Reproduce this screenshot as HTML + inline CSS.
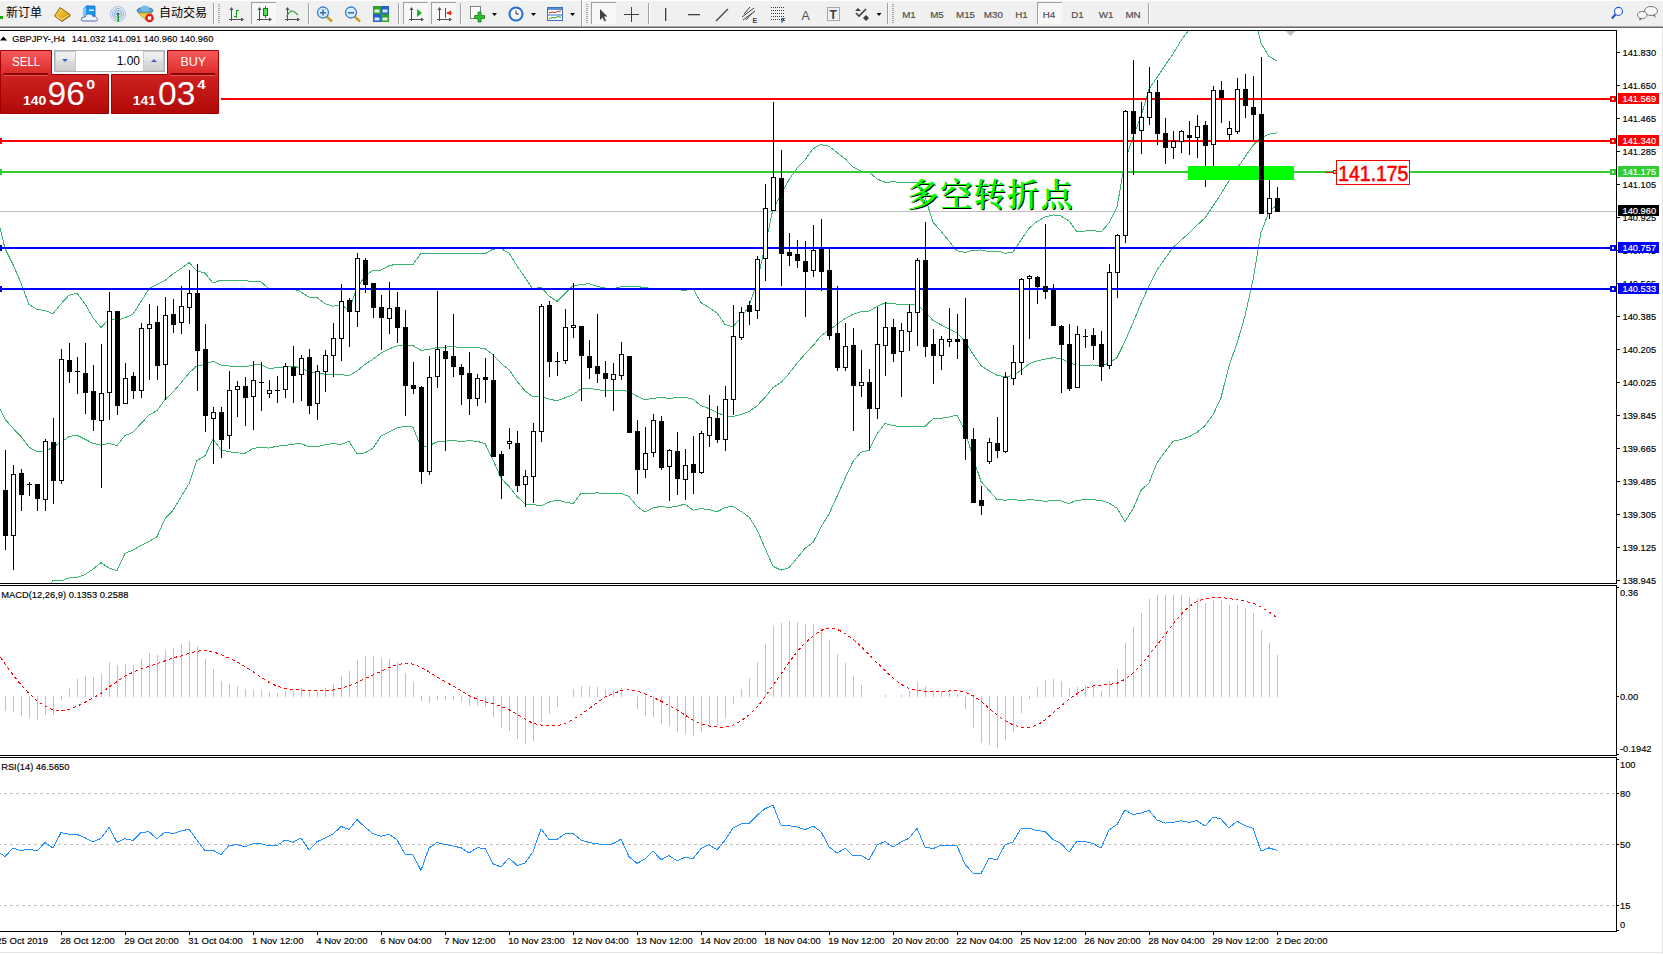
<!DOCTYPE html><html><head><meta charset="utf-8"><title>GBPJPY H4</title><style>
html,body{margin:0;padding:0;background:#fff;width:1663px;height:954px;overflow:hidden}
svg{display:block}
</style></head><body>
<svg width="1663" height="954" viewBox="0 0 1663 954">
<rect x="0" y="0" width="1663" height="954" fill="#fff"/>
<rect x="0" y="0" width="1663" height="26" fill="#f0f0f0"/><rect x="0" y="0" width="1663" height="1" fill="#fff"/>
<rect x="0" y="26" width="1663" height="1" fill="#a8a8a8"/><rect x="0" y="27" width="1663" height="1" fill="#696969"/>
<rect x="0" y="28" width="1663" height="2" fill="#fff"/>
<rect x="1662" y="28" width="1" height="926" fill="#e3e3e3"/>
<rect x="0" y="952" width="1663" height="1" fill="#e3e3e3"/>
<rect x="0" y="16" width="3" height="3" fill="#10b010"/>
<text x="6" y="17" font-size="12" fill="#000" style="font-family:'Liberation Sans', 'Noto Sans CJK SC', 'WenQuanYi Zen Hei', sans-serif">新订单</text>
<defs><linearGradient id="gbook" x1="0" y1="0" x2="1" y2="1"><stop offset="0" stop-color="#f6dc6a"/><stop offset="0.6" stop-color="#e0b020"/><stop offset="1" stop-color="#b07810"/></linearGradient></defs>
<polygon points="54.5,16 60,7.5 70,14.5 70,16 62,21.5" fill="url(#gbook)" stroke="#9a6010" stroke-width="1"/>
<polyline points="56.5,16.5 62,19.5 68.5,15" fill="none" stroke="#fff2c0" stroke-width="0.8"/>
<polygon points="84,8 86,6 95,6 95,16 84,16" fill="#1e96f0" stroke="#0a68c0" stroke-width="0.8"/>
<polygon points="84,8 86,6 86,16 84,16" fill="#7cc8ff"/>
<rect x="89" y="9.5" width="5" height="1.5" fill="#e8f4ff"/>
<path d="M83,21 C80,21 81,16.5 85,17 C86,13 92,13 93,16.5 C97,15.5 99,21 96,21 Z" fill="#eef2fa" stroke="#5070b0" stroke-width="1"/>
<circle cx="118" cy="14" r="7.5" fill="none" stroke="#a8c0e8" stroke-width="1"/>
<circle cx="118" cy="14" r="5.5" fill="none" stroke="#8fb0e0" stroke-width="1"/>
<circle cx="118" cy="14" r="3.5" fill="none" stroke="#7098d8" stroke-width="1"/>
<circle cx="118" cy="14" r="1.6" fill="#2050c0"/><rect x="117.5" y="14" width="1.5" height="8" fill="#20a020"/>
<ellipse cx="145" cy="10.5" rx="8" ry="3" fill="#5aa8d8" stroke="#2a78b0" stroke-width="1"/>
<ellipse cx="145" cy="8.5" rx="4" ry="3" fill="#78c0e8"/>
<polygon points="138,13 152,13 147,21" fill="#f0d040" stroke="#c09020" stroke-width="0.8"/>
<circle cx="149.5" cy="18" r="4.3" fill="#d82020"/><rect x="147.8" y="16.3" width="3.4" height="3.4" fill="#fff"/>
<text x="159" y="17" font-size="12" fill="#000" style="font-family:'Liberation Sans', 'Noto Sans CJK SC', 'WenQuanYi Zen Hei', sans-serif">自动交易</text>
<rect x="213" y="3" width="1" height="21" fill="#a0a0a0"/><rect x="214" y="3" width="1" height="21" fill="#fff"/>
<rect x="218" y="4" width="2" height="1" fill="#a8a8a8"/>
<rect x="218" y="6" width="2" height="1" fill="#a8a8a8"/>
<rect x="218" y="8" width="2" height="1" fill="#a8a8a8"/>
<rect x="218" y="10" width="2" height="1" fill="#a8a8a8"/>
<rect x="218" y="12" width="2" height="1" fill="#a8a8a8"/>
<rect x="218" y="14" width="2" height="1" fill="#a8a8a8"/>
<rect x="218" y="16" width="2" height="1" fill="#a8a8a8"/>
<rect x="218" y="18" width="2" height="1" fill="#a8a8a8"/>
<rect x="218" y="20" width="2" height="1" fill="#a8a8a8"/>
<rect x="218" y="22" width="2" height="1" fill="#a8a8a8"/>
<g fill="#505050"><rect x="231" y="8" width="1" height="13"/><rect x="229" y="19" width="14" height="1"/><polygon points="231.5,7 229.5,10 233.5,10"/><polygon points="244,19.5 241,17.5 241,21.5"/></g>
<g fill="#10a010"><rect x="236" y="10" width="1" height="8"/><rect x="237" y="10" width="2" height="1"/><rect x="234" y="16" width="2" height="1"/></g>
<rect x="251" y="2" width="25" height="22" fill="#f7f7f7"/>
<rect x="251" y="2" width="25" height="1" fill="#a0a0a0"/><rect x="251" y="2" width="1" height="22" fill="#a0a0a0"/>
<g fill="#505050"><rect x="259" y="8" width="1" height="13"/><rect x="257" y="19" width="14" height="1"/><polygon points="259.5,7 257.5,10 261.5,10"/><polygon points="272,19.5 269,17.5 269,21.5"/></g>
<rect x="265" y="6" width="1" height="12" fill="#108010"/><rect x="263.5" y="8.5" width="4" height="7" fill="#50e050" stroke="#108010" stroke-width="1"/>
<g fill="#505050"><rect x="287" y="8" width="1" height="13"/><rect x="285" y="19" width="14" height="1"/><polygon points="287.5,7 285.5,10 289.5,10"/><polygon points="300,19.5 297,17.5 297,21.5"/></g>
<path d="M286.5,16.5 Q290.5,10 292.5,11 Q294.5,11.5 298,15" fill="none" stroke="#30a030" stroke-width="1.1"/>
<rect x="308" y="3" width="1" height="21" fill="#a0a0a0"/><rect x="309" y="3" width="1" height="21" fill="#fff"/>
<line x1="326.5" y1="16.5" x2="332" y2="21.5" stroke="#c8a020" stroke-width="2.6"/>
<circle cx="323" cy="12.5" r="5.5" fill="#d8ecfa" stroke="#3a80d0" stroke-width="1.3"/>
<rect x="320" y="12" width="6" height="1.6" fill="#3a70b0"/>
<rect x="322.2" y="9.5" width="1.6" height="6" fill="#3a70b0"/>
<line x1="354.5" y1="16.5" x2="360" y2="21.5" stroke="#c8a020" stroke-width="2.6"/>
<circle cx="351" cy="12.5" r="5.5" fill="#d8ecfa" stroke="#3a80d0" stroke-width="1.3"/>
<rect x="348" y="12" width="6" height="1.6" fill="#3a70b0"/>
<rect x="373" y="6" width="8" height="8" fill="#30a030"/><rect x="374.5" y="9.5" width="5" height="3" fill="#fff" opacity="0.85"/>
<rect x="381" y="6" width="8" height="8" fill="#2060d0"/><rect x="382.5" y="9.5" width="5" height="3" fill="#fff" opacity="0.85"/>
<rect x="373" y="14" width="8" height="8" fill="#2060d0"/><rect x="374.5" y="17.5" width="5" height="3" fill="#fff" opacity="0.85"/>
<rect x="381" y="14" width="8" height="8" fill="#30a030"/><rect x="382.5" y="17.5" width="5" height="3" fill="#fff" opacity="0.85"/>
<rect x="398" y="3" width="1" height="21" fill="#a0a0a0"/><rect x="399" y="3" width="1" height="21" fill="#fff"/>
<rect x="403" y="2" width="25" height="22" fill="#f7f7f7"/>
<rect x="403" y="2" width="25" height="1" fill="#a0a0a0"/><rect x="403" y="2" width="1" height="22" fill="#a0a0a0"/>
<g fill="#505050"><rect x="411" y="8" width="1" height="13"/><rect x="409" y="19" width="14" height="1"/><polygon points="411.5,7 409.5,10 413.5,10"/><polygon points="424,19.5 421,17.5 421,21.5"/></g>
<polygon points="417,9 417,17 422,13" fill="#20b020"/>
<rect x="431" y="2" width="25" height="22" fill="#f7f7f7"/>
<rect x="431" y="2" width="25" height="1" fill="#a0a0a0"/><rect x="431" y="2" width="1" height="22" fill="#a0a0a0"/>
<g fill="#505050"><rect x="439" y="8" width="1" height="13"/><rect x="437" y="19" width="14" height="1"/><polygon points="439.5,7 437.5,10 441.5,10"/><polygon points="452,19.5 449,17.5 449,21.5"/></g>
<rect x="445" y="8" width="1" height="10" fill="#2060a0"/><polygon points="446,13 451,10.5 451,15.5" fill="#e03010"/><rect x="447" y="12.5" width="5" height="1.2" fill="#e03010"/>
<rect x="460" y="3" width="1" height="21" fill="#a0a0a0"/><rect x="461" y="3" width="1" height="21" fill="#fff"/>
<rect x="470.5" y="6.5" width="10" height="12" fill="#fff" stroke="#808080" stroke-width="1"/>
<path d="M478,12 h3 v3.5 h3.5 v3 h-3.5 v3.5 h-3 v-3.5 h-3.5 v-3 h3.5 z" fill="#30c030" stroke="#108010" stroke-width="0.8"/>
<polygon points="492.0,13 497.0,13 494.5,16" fill="#000"/>
<circle cx="516" cy="14" r="7.5" fill="#2070d0"/><circle cx="516" cy="14" r="5.5" fill="#f8f8f8"/><path d="M516,10.5 V14 H519" fill="none" stroke="#303030" stroke-width="1"/>
<polygon points="531.0,13 536.0,13 533.5,16" fill="#000"/>
<rect x="547.5" y="7.5" width="15" height="13" fill="#fff" stroke="#3a70c0" stroke-width="1"/><rect x="548" y="8" width="14" height="2" fill="#5a90d8"/>
<polyline points="549,13 552,12 555,12.5 558,11.5 561,11" fill="none" stroke="#c03020" stroke-width="1"/><rect x="548" y="14.5" width="14" height="1" fill="#3a70c0"/>
<polyline points="549,19 552,17.5 555,18 558,16.5 561,17.5" fill="none" stroke="#20a020" stroke-width="1"/>
<polygon points="570.0,13 575.0,13 572.5,16" fill="#000"/>
<rect x="581" y="0" width="1" height="26" fill="#a0a0a0"/><rect x="582" y="0" width="1" height="26" fill="#fff"/>
<rect x="586" y="4" width="2" height="1" fill="#a8a8a8"/>
<rect x="586" y="6" width="2" height="1" fill="#a8a8a8"/>
<rect x="586" y="8" width="2" height="1" fill="#a8a8a8"/>
<rect x="586" y="10" width="2" height="1" fill="#a8a8a8"/>
<rect x="586" y="12" width="2" height="1" fill="#a8a8a8"/>
<rect x="586" y="14" width="2" height="1" fill="#a8a8a8"/>
<rect x="586" y="16" width="2" height="1" fill="#a8a8a8"/>
<rect x="586" y="18" width="2" height="1" fill="#a8a8a8"/>
<rect x="586" y="20" width="2" height="1" fill="#a8a8a8"/>
<rect x="586" y="22" width="2" height="1" fill="#a8a8a8"/>
<rect x="591" y="2" width="25" height="22" fill="#f7f7f7"/>
<rect x="591" y="2" width="25" height="1" fill="#a0a0a0"/><rect x="591" y="2" width="1" height="22" fill="#a0a0a0"/>
<polygon points="600,9 600,20 602.5,17.5 604.5,21.5 606,20.5 604,16.5 607.5,16.5" fill="#404040"/>
<rect x="624" y="14" width="15" height="1" fill="#404040"/><rect x="631" y="7" width="1" height="15" fill="#404040"/>
<rect x="648" y="3" width="1" height="21" fill="#a0a0a0"/><rect x="649" y="3" width="1" height="21" fill="#fff"/>
<rect x="665" y="8" width="1.3" height="13" fill="#404040"/>
<rect x="688" y="14" width="12" height="1.3" fill="#404040"/>
<line x1="716" y1="21" x2="728" y2="9" stroke="#404040" stroke-width="1.2"/>
<g stroke="#404040" stroke-width="1" fill="none"><line x1="742" y1="17" x2="754" y2="8"/><line x1="743" y1="20" x2="755" y2="11"/><line x1="744" y1="14" x2="750" y2="7"/><line x1="746" y1="20" x2="752" y2="13"/></g>
<text transform="translate(752.5,23)" font-size="7" fill="#404040" text-anchor="start" font-weight="bold" style="font-family:'Liberation Sans', 'Noto Sans CJK SC', sans-serif" >E</text>
<g fill="#404040"><rect x="771" y="7" width="1" height="1"/><rect x="773" y="7" width="1" height="1"/><rect x="775" y="7" width="1" height="1"/><rect x="777" y="7" width="1" height="1"/><rect x="779" y="7" width="1" height="1"/><rect x="781" y="7" width="1" height="1"/><rect x="783" y="7" width="1" height="1"/><rect x="771" y="10" width="1" height="1"/><rect x="773" y="10" width="1" height="1"/><rect x="775" y="10" width="1" height="1"/><rect x="777" y="10" width="1" height="1"/><rect x="779" y="10" width="1" height="1"/><rect x="781" y="10" width="1" height="1"/><rect x="783" y="10" width="1" height="1"/><rect x="771" y="13" width="1" height="1"/><rect x="773" y="13" width="1" height="1"/><rect x="775" y="13" width="1" height="1"/><rect x="777" y="13" width="1" height="1"/><rect x="779" y="13" width="1" height="1"/><rect x="781" y="13" width="1" height="1"/><rect x="783" y="13" width="1" height="1"/><rect x="771" y="16" width="1" height="1"/><rect x="773" y="16" width="1" height="1"/><rect x="775" y="16" width="1" height="1"/><rect x="777" y="16" width="1" height="1"/><rect x="779" y="16" width="1" height="1"/><rect x="781" y="16" width="1" height="1"/><rect x="783" y="16" width="1" height="1"/><rect x="771" y="19" width="1" height="1"/><rect x="773" y="19" width="1" height="1"/><rect x="775" y="19" width="1" height="1"/><rect x="777" y="19" width="1" height="1"/><rect x="779" y="19" width="1" height="1"/><rect x="781" y="19" width="1" height="1"/><rect x="783" y="19" width="1" height="1"/></g>
<text transform="translate(781,23)" font-size="7" fill="#404040" text-anchor="start" font-weight="bold" style="font-family:'Liberation Sans', 'Noto Sans CJK SC', sans-serif" >F</text>
<text transform="translate(801.5,19.5) scale(0.95,1)" font-size="13" fill="#505050" text-anchor="start" font-weight="normal" style="font-family:'Liberation Sans', 'Noto Sans CJK SC', sans-serif" >A</text>
<rect x="827.5" y="7.5" width="12" height="13" fill="none" stroke="#606060" stroke-width="1" stroke-dasharray="1,1"/>
<text transform="translate(829.5,19)" font-size="12" fill="#404040" text-anchor="start" font-weight="bold" style="font-family:'Liberation Sans', 'Noto Sans CJK SC', sans-serif" >T</text>
<polygon points="855,11 858,8 861,11" fill="#404040"/><polyline points="856,13 859,16 866,9" fill="none" stroke="#404040" stroke-width="1.6"/><polygon points="863,18 866,21 869,18 866,15" fill="#404040"/>
<polygon points="876.5,13 881.5,13 879,16" fill="#000"/>
<rect x="887" y="3" width="1" height="21" fill="#a0a0a0"/><rect x="888" y="3" width="1" height="21" fill="#fff"/>
<rect x="892" y="4" width="2" height="1" fill="#a8a8a8"/>
<rect x="892" y="6" width="2" height="1" fill="#a8a8a8"/>
<rect x="892" y="8" width="2" height="1" fill="#a8a8a8"/>
<rect x="892" y="10" width="2" height="1" fill="#a8a8a8"/>
<rect x="892" y="12" width="2" height="1" fill="#a8a8a8"/>
<rect x="892" y="14" width="2" height="1" fill="#a8a8a8"/>
<rect x="892" y="16" width="2" height="1" fill="#a8a8a8"/>
<rect x="892" y="18" width="2" height="1" fill="#a8a8a8"/>
<rect x="892" y="20" width="2" height="1" fill="#a8a8a8"/>
<rect x="892" y="22" width="2" height="1" fill="#a8a8a8"/>
<rect x="1037" y="2" width="25" height="22" fill="#f7f7f7"/>
<rect x="1037" y="2" width="25" height="1" fill="#a0a0a0"/><rect x="1037" y="2" width="1" height="22" fill="#a0a0a0"/>
<text transform="translate(909,18)" font-size="9.8" fill="#4a4a4a" stroke="#4a4a4a" stroke-width="0.15" text-anchor="middle" font-weight="normal" style="font-family:'Liberation Sans', 'Noto Sans CJK SC', sans-serif" >M1</text>
<text transform="translate(937,18)" font-size="9.8" fill="#4a4a4a" stroke="#4a4a4a" stroke-width="0.15" text-anchor="middle" font-weight="normal" style="font-family:'Liberation Sans', 'Noto Sans CJK SC', sans-serif" >M5</text>
<text transform="translate(965.5,18)" font-size="9.8" fill="#4a4a4a" stroke="#4a4a4a" stroke-width="0.15" text-anchor="middle" font-weight="normal" style="font-family:'Liberation Sans', 'Noto Sans CJK SC', sans-serif" >M15</text>
<text transform="translate(993.4,18)" font-size="9.8" fill="#4a4a4a" stroke="#4a4a4a" stroke-width="0.15" text-anchor="middle" font-weight="normal" style="font-family:'Liberation Sans', 'Noto Sans CJK SC', sans-serif" >M30</text>
<text transform="translate(1021.5,18)" font-size="9.8" fill="#4a4a4a" stroke="#4a4a4a" stroke-width="0.15" text-anchor="middle" font-weight="normal" style="font-family:'Liberation Sans', 'Noto Sans CJK SC', sans-serif" >H1</text>
<text transform="translate(1049,18)" font-size="9.8" fill="#4a4a4a" stroke="#4a4a4a" stroke-width="0.15" text-anchor="middle" font-weight="normal" style="font-family:'Liberation Sans', 'Noto Sans CJK SC', sans-serif" >H4</text>
<text transform="translate(1077.5,18)" font-size="9.8" fill="#4a4a4a" stroke="#4a4a4a" stroke-width="0.15" text-anchor="middle" font-weight="normal" style="font-family:'Liberation Sans', 'Noto Sans CJK SC', sans-serif" >D1</text>
<text transform="translate(1106,18)" font-size="9.8" fill="#4a4a4a" stroke="#4a4a4a" stroke-width="0.15" text-anchor="middle" font-weight="normal" style="font-family:'Liberation Sans', 'Noto Sans CJK SC', sans-serif" >W1</text>
<text transform="translate(1133,18)" font-size="9.8" fill="#4a4a4a" stroke="#4a4a4a" stroke-width="0.15" text-anchor="middle" font-weight="normal" style="font-family:'Liberation Sans', 'Noto Sans CJK SC', sans-serif" >MN</text>
<rect x="1148" y="3" width="1" height="21" fill="#a0a0a0"/><rect x="1149" y="3" width="1" height="21" fill="#fff"/>
<circle cx="1618.5" cy="11.4" r="4" fill="#fafaff" stroke="#2457d0" stroke-width="1.1"/><line x1="1615.8" y1="14.3" x2="1611.8" y2="18.6" stroke="#2457d0" stroke-width="2.2"/>
<ellipse cx="1651" cy="11" rx="6.5" ry="4.5" fill="#f6f6fa" stroke="#7a7a7a" stroke-width="1"/><polygon points="1653,15 1655.5,18 1655,14.5" fill="#606060"/>
<ellipse cx="1642.3" cy="15" rx="4.8" ry="3.6" fill="#f4f4f8" stroke="#7a7a7a" stroke-width="1"/><polygon points="1639.5,18 1639.5,21 1642,18.3" fill="#606060"/>
<defs><clipPath id="cm"><rect x="0" y="31" width="1616" height="552"/></clipPath>
<clipPath id="cd"><rect x="0" y="586" width="1616" height="169"/></clipPath>
<clipPath id="cr"><rect x="0" y="758" width="1616" height="173"/></clipPath></defs>
<g clip-path="url(#cm)">
<rect x="0" y="211" width="1616" height="1" fill="#c0c0c0"/>
<polyline points="-3,216 5,248.5 13,264.6 21,283 29,304.4 37,309.4 45,310.7 53,313.6 61,303.8 69,295.2 77,293.2 85,303.8 93,317.7 101,327.8 109,318.8 117,320.5 125,317.7 133,314.2 141,301.5 149,288.8 157,284.44 165,280.58 173,273.88 181,268.56 189,262.6 197,270.93 205,273.14 213,283.12 221,280.06 229,280.34 237,280.67 245,280.6 253,281.73 261,281.78 269,288.84 277,289.2 285,288.74 293,288.6 301,291.98 309,297.19 317,297.56 325,303.77 333,306.22 341,304.94 349,309.72 357,288 365,275.89 373,270.1 381,270.22 389,265.73 397,264.07 405,264.8 413,264.44 421,253.23 429,253.49 437,253.24 445,253.09 453,253.09 461,253.25 469,253.7 477,253.65 485,253.89 493,249.1 501,248.62 509,252.99 517,265.9 525,277.5 533,289.28 541,287 549,295.96 557,301.42 565,293.58 573,285.73 581,284.54 589,283.72 597,286.22 605,288.08 613,288.8 621,286.77 629,286.89 637,286.43 645,287.75 653,288.47 661,289.14 669,288.81 677,289.53 685,290.47 693,288.52 701,302.71 709,307.5 717,313.03 725,324.35 733,326.98 741,317.28 749,306.29 757,282.13 765,246.71 773,208.87 781,194.83 789,179.57 797,168.28 805,159.8 813,148.72 821,144.64 829,146.2 837,152.53 845,158.62 853,166.98 861,171.13 869,171.98 877,179.01 885,182.19 893,181.88 901,182.28 909,182.32 917,182.45 925,196.59 933,222.2 941,231.28 949,241.02 957,250.88 965,252.48 973,250.28 981,249.97 989,251.66 997,250.98 1005,253.26 1013,252.01 1021,239.96 1029,228.37 1037,221.47 1045,217.06 1053,214.9 1061,216.01 1069,220.92 1077,231.83 1085,230.96 1093,230.24 1101,232.11 1109,222.98 1117,207.13 1125,161.13 1133,136.8 1141,116.51 1149,88.91 1157,77.44 1165,65.38 1173,53.97 1181,40.72 1189,29.61 1197,17.99 1205,10.19 1213,-2.58 1221,-10.01 1229,-4.1 1237,-6.32 1245,-1.88 1253,11.24 1261,43.13 1269,56.45 1277,60.99" fill="none" stroke="#3cb371" stroke-width="1" shape-rendering="crispEdges"/>
<polyline points="-3,403.4 5,419.3 13,428.2 21,436.6 29,447.1 37,451.6 45,451.8 53,447 61,442.4 69,436.6 77,435.2 85,439.2 93,443.4 101,445.2 109,443.4 117,445.5 125,435.6 133,432.1 141,423.5 149,415.1 157,410.6 165,399.6 173,392.1 181,382.7 189,373.15 197,365.75 205,364.45 213,361.05 221,365.05 229,366 237,366.75 245,367 253,365.05 261,364.5 269,368.45 277,367.7 285,367.1 293,366.35 301,367.85 309,371.9 317,372.2 325,374.2 333,374.9 341,374.65 349,375.55 357,370.95 365,364.4 373,359.15 381,353.05 389,348.95 397,346 405,345.4 413,345.8 421,350.25 429,349.6 437,347.55 445,347.15 453,346.7 461,347.5 469,347.15 477,347.5 485,348.7 493,354.6 501,363.3 509,369.8 517,381.15 525,390.75 533,396.95 541,396.4 549,399.05 557,400.75 565,397.85 573,394.7 581,388.9 589,388.4 597,389.6 605,390.6 613,391 621,390 629,391.7 637,396.25 645,399.95 653,398.15 661,397.75 669,398.2 677,397.85 685,397.3 693,399.35 701,405.7 709,408.5 717,412.4 725,416 733,416.55 741,414.4 749,411.6 757,405.9 765,397.4 773,387.55 781,382.5 789,373.65 797,363.2 805,354.1 813,345.6 821,335.8 829,330.05 837,324.5 845,318.55 853,314.2 861,311.65 869,311.2 877,306.45 885,302.85 893,303.7 901,304.6 909,304.65 917,304.7 925,311.6 933,320.5 941,324.8 949,329 957,333.05 965,341.4 973,354 981,365.7 989,371.05 997,375.2 1005,376.75 1013,375.6 1021,370.45 1029,363.85 1037,360.95 1045,359.15 1053,357.75 1061,358.45 1069,362.25 1077,365.95 1085,365.45 1093,364.95 1101,366.3 1109,362.95 1117,357.65 1125,341.3 1133,322.85 1141,303.45 1149,285.95 1157,270.1 1165,258.6 1173,247.55 1181,240.15 1189,233.2 1197,225.2 1205,217.9 1213,206.15 1221,193.8 1229,180.8 1237,168.55 1245,157 1253,145.45 1261,137.8 1269,134.1 1277,132.9" fill="none" stroke="#3cb371" stroke-width="1" shape-rendering="crispEdges"/>
<polyline points="-3,596.8 5,590.1 13,591.8 21,590.2 29,589.8 37,593.8 45,592.9 53,580.4 61,581 69,578 77,577.2 85,574.6 93,569.1 101,562.6 109,568 117,570.5 125,553.5 133,550 141,545.5 149,541.4 157,536.76 165,518.62 173,510.32 181,496.84 189,483.7 197,460.57 205,455.76 213,438.98 221,450.04 229,451.66 237,452.83 245,453.4 253,448.37 261,447.22 269,448.06 277,446.2 285,445.46 293,444.1 301,443.72 309,446.61 317,446.84 325,444.63 333,443.58 341,444.36 349,441.38 357,453.9 365,452.91 373,448.2 381,435.88 389,432.17 397,427.93 405,426 413,427.16 421,447.27 429,445.71 437,441.86 445,441.21 453,440.31 461,441.75 469,440.6 477,441.35 485,443.51 493,460.1 501,477.98 509,486.61 517,496.4 525,504 533,504.62 541,505.8 549,502.14 557,500.08 565,502.12 573,503.67 581,493.26 589,493.08 597,492.98 605,493.12 613,493.2 621,493.23 629,496.51 637,506.07 645,512.15 653,507.83 661,506.36 669,507.59 677,506.17 685,504.13 693,510.18 701,508.69 709,509.5 717,511.77 725,507.65 733,506.12 741,511.52 749,516.91 757,529.67 765,548.09 773,566.23 781,570.17 789,567.73 797,558.12 805,548.4 813,542.48 821,526.96 829,513.9 837,496.47 845,478.48 853,461.42 861,452.17 869,450.42 877,433.89 885,423.51 893,425.52 901,426.92 909,426.98 917,426.95 925,426.61 933,418.8 941,418.32 949,416.98 957,415.22 965,430.32 973,457.72 981,481.43 989,490.44 997,499.42 1005,500.24 1013,499.19 1021,500.94 1029,499.33 1037,500.43 1045,501.24 1053,500.6 1061,500.89 1069,503.58 1077,500.07 1085,499.94 1093,499.66 1101,500.49 1109,502.92 1117,508.17 1125,521.47 1133,508.9 1141,490.39 1149,482.99 1157,462.76 1165,451.82 1173,441.13 1181,439.58 1189,436.79 1197,432.41 1205,425.61 1213,414.88 1221,397.61 1229,365.7 1237,343.42 1245,315.88 1253,279.66 1261,232.47 1269,211.75 1277,204.81" fill="none" stroke="#3cb371" stroke-width="1" shape-rendering="crispEdges"/>
<rect x="0" y="98" width="1616" height="2" fill="#ff0000"/>
<rect x="0" y="140" width="1616" height="2" fill="#ff0000"/>
<rect x="0" y="171" width="1616" height="2" fill="#32cd32"/>
<rect x="0" y="247" width="1616" height="2" fill="#0000ff"/>
<rect x="0" y="288" width="1616" height="2" fill="#0000ff"/>
<g shape-rendering="crispEdges">
<rect x="5" y="450" width="1" height="100" fill="#000"/><rect x="3" y="490" width="5" height="46" fill="#000"/>
<rect x="13" y="465" width="1" height="105" fill="#000"/><rect x="11" y="474" width="5" height="62" fill="#000"/><rect x="12" y="475" width="3" height="60" fill="#fff"/>
<rect x="21" y="469" width="1" height="42" fill="#000"/><rect x="19" y="473" width="5" height="22" fill="#000"/>
<rect x="29" y="482" width="1" height="14" fill="#000"/><rect x="27" y="484" width="5" height="1" fill="#000"/>
<rect x="37" y="484" width="1" height="27" fill="#000"/><rect x="35" y="484" width="5" height="15" fill="#000"/>
<rect x="45" y="439" width="1" height="72" fill="#000"/><rect x="43" y="441" width="5" height="59" fill="#000"/><rect x="44" y="442" width="3" height="57" fill="#fff"/>
<rect x="53" y="418" width="1" height="86" fill="#000"/><rect x="51" y="442" width="5" height="39" fill="#000"/>
<rect x="61" y="349" width="1" height="135" fill="#000"/><rect x="59" y="359" width="5" height="122" fill="#000"/><rect x="60" y="360" width="3" height="120" fill="#fff"/>
<rect x="69" y="343" width="1" height="40" fill="#000"/><rect x="67" y="360" width="5" height="12" fill="#000"/>
<rect x="77" y="357" width="1" height="37" fill="#000"/><rect x="75" y="371" width="5" height="1" fill="#000"/>
<rect x="85" y="343" width="1" height="71" fill="#000"/><rect x="83" y="373" width="5" height="20" fill="#000"/>
<rect x="93" y="365" width="1" height="66" fill="#000"/><rect x="91" y="391" width="5" height="29" fill="#000"/>
<rect x="101" y="344" width="1" height="144" fill="#000"/><rect x="99" y="393" width="5" height="28" fill="#000"/><rect x="100" y="394" width="3" height="26" fill="#fff"/>
<rect x="109" y="292" width="1" height="128" fill="#000"/><rect x="107" y="311" width="5" height="82" fill="#000"/><rect x="108" y="312" width="3" height="80" fill="#fff"/>
<rect x="117" y="311" width="1" height="104" fill="#000"/><rect x="115" y="311" width="5" height="95" fill="#000"/>
<rect x="125" y="363" width="1" height="41" fill="#000"/><rect x="123" y="378" width="5" height="26" fill="#000"/><rect x="124" y="379" width="3" height="24" fill="#fff"/>
<rect x="133" y="372" width="1" height="27" fill="#000"/><rect x="131" y="376" width="5" height="15" fill="#000"/>
<rect x="141" y="323" width="1" height="75" fill="#000"/><rect x="139" y="328" width="5" height="63" fill="#000"/><rect x="140" y="329" width="3" height="61" fill="#fff"/>
<rect x="149" y="304" width="1" height="76" fill="#000"/><rect x="147" y="324" width="5" height="5" fill="#000"/><rect x="148" y="325" width="3" height="3" fill="#fff"/>
<rect x="157" y="306" width="1" height="74" fill="#000"/><rect x="155" y="322" width="5" height="44" fill="#000"/>
<rect x="165" y="297" width="1" height="103" fill="#000"/><rect x="163" y="315" width="5" height="50" fill="#000"/><rect x="164" y="316" width="3" height="48" fill="#fff"/>
<rect x="173" y="299" width="1" height="34" fill="#000"/><rect x="171" y="314" width="5" height="11" fill="#000"/>
<rect x="181" y="286" width="1" height="48" fill="#000"/><rect x="179" y="306" width="5" height="17" fill="#000"/><rect x="180" y="307" width="3" height="15" fill="#fff"/>
<rect x="189" y="270" width="1" height="54" fill="#000"/><rect x="187" y="293" width="5" height="15" fill="#000"/><rect x="188" y="294" width="3" height="13" fill="#fff"/>
<rect x="197" y="264" width="1" height="127" fill="#000"/><rect x="195" y="293" width="5" height="58" fill="#000"/>
<rect x="205" y="324" width="1" height="108" fill="#000"/><rect x="203" y="349" width="5" height="67" fill="#000"/>
<rect x="213" y="407" width="1" height="57" fill="#000"/><rect x="211" y="412" width="5" height="7" fill="#000"/><rect x="212" y="413" width="3" height="5" fill="#fff"/>
<rect x="221" y="407" width="1" height="51" fill="#000"/><rect x="219" y="412" width="5" height="28" fill="#000"/>
<rect x="229" y="371" width="1" height="78" fill="#000"/><rect x="227" y="390" width="5" height="46" fill="#000"/><rect x="228" y="391" width="3" height="44" fill="#fff"/>
<rect x="237" y="381" width="1" height="36" fill="#000"/><rect x="235" y="386" width="5" height="4" fill="#000"/><rect x="236" y="387" width="3" height="2" fill="#fff"/>
<rect x="245" y="377" width="1" height="49" fill="#000"/><rect x="243" y="386" width="5" height="12" fill="#000"/>
<rect x="253" y="361" width="1" height="69" fill="#000"/><rect x="251" y="380" width="5" height="17" fill="#000"/><rect x="252" y="381" width="3" height="15" fill="#fff"/>
<rect x="261" y="362" width="1" height="49" fill="#000"/><rect x="259" y="382" width="5" height="1" fill="#000"/>
<rect x="269" y="380" width="1" height="18" fill="#000"/><rect x="267" y="390" width="5" height="4" fill="#000"/><rect x="268" y="391" width="3" height="2" fill="#fff"/>
<rect x="277" y="376" width="1" height="27" fill="#000"/><rect x="275" y="390" width="5" height="1" fill="#000"/>
<rect x="285" y="363" width="1" height="35" fill="#000"/><rect x="283" y="366" width="5" height="24" fill="#000"/><rect x="284" y="367" width="3" height="22" fill="#fff"/>
<rect x="293" y="346" width="1" height="57" fill="#000"/><rect x="291" y="367" width="5" height="9" fill="#000"/>
<rect x="301" y="355" width="1" height="46" fill="#000"/><rect x="299" y="358" width="5" height="17" fill="#000"/><rect x="300" y="359" width="3" height="15" fill="#fff"/>
<rect x="309" y="349" width="1" height="65" fill="#000"/><rect x="307" y="357" width="5" height="49" fill="#000"/>
<rect x="317" y="365" width="1" height="55" fill="#000"/><rect x="315" y="371" width="5" height="33" fill="#000"/><rect x="316" y="372" width="3" height="31" fill="#fff"/>
<rect x="325" y="350" width="1" height="42" fill="#000"/><rect x="323" y="355" width="5" height="17" fill="#000"/><rect x="324" y="356" width="3" height="15" fill="#fff"/>
<rect x="333" y="323" width="1" height="54" fill="#000"/><rect x="331" y="338" width="5" height="18" fill="#000"/><rect x="332" y="339" width="3" height="16" fill="#fff"/>
<rect x="341" y="284" width="1" height="77" fill="#000"/><rect x="339" y="301" width="5" height="38" fill="#000"/><rect x="340" y="302" width="3" height="36" fill="#fff"/>
<rect x="349" y="298" width="1" height="49" fill="#000"/><rect x="347" y="300" width="5" height="12" fill="#000"/>
<rect x="357" y="253" width="1" height="74" fill="#000"/><rect x="355" y="258" width="5" height="54" fill="#000"/><rect x="356" y="259" width="3" height="52" fill="#fff"/>
<rect x="365" y="258" width="1" height="35" fill="#000"/><rect x="363" y="260" width="5" height="25" fill="#000"/>
<rect x="373" y="283" width="1" height="35" fill="#000"/><rect x="371" y="283" width="5" height="25" fill="#000"/>
<rect x="381" y="295" width="1" height="55" fill="#000"/><rect x="379" y="307" width="5" height="11" fill="#000"/>
<rect x="389" y="282" width="1" height="52" fill="#000"/><rect x="387" y="308" width="5" height="11" fill="#000"/><rect x="388" y="309" width="3" height="9" fill="#fff"/>
<rect x="397" y="292" width="1" height="51" fill="#000"/><rect x="395" y="307" width="5" height="21" fill="#000"/>
<rect x="405" y="310" width="1" height="106" fill="#000"/><rect x="403" y="327" width="5" height="59" fill="#000"/>
<rect x="413" y="362" width="1" height="32" fill="#000"/><rect x="411" y="385" width="5" height="4" fill="#000"/>
<rect x="421" y="386" width="1" height="98" fill="#000"/><rect x="419" y="387" width="5" height="85" fill="#000"/>
<rect x="429" y="356" width="1" height="119" fill="#000"/><rect x="427" y="377" width="5" height="95" fill="#000"/><rect x="428" y="378" width="3" height="93" fill="#fff"/>
<rect x="437" y="291" width="1" height="97" fill="#000"/><rect x="435" y="349" width="5" height="28" fill="#000"/><rect x="436" y="350" width="3" height="26" fill="#fff"/>
<rect x="445" y="345" width="1" height="106" fill="#000"/><rect x="443" y="351" width="5" height="8" fill="#000"/>
<rect x="453" y="314" width="1" height="63" fill="#000"/><rect x="451" y="356" width="5" height="11" fill="#000"/>
<rect x="461" y="364" width="1" height="41" fill="#000"/><rect x="459" y="367" width="5" height="8" fill="#000"/>
<rect x="469" y="352" width="1" height="63" fill="#000"/><rect x="467" y="373" width="5" height="26" fill="#000"/>
<rect x="477" y="374" width="1" height="32" fill="#000"/><rect x="475" y="378" width="5" height="21" fill="#000"/><rect x="476" y="379" width="3" height="19" fill="#fff"/>
<rect x="485" y="358" width="1" height="45" fill="#000"/><rect x="483" y="377" width="5" height="3" fill="#000"/>
<rect x="493" y="354" width="1" height="103" fill="#000"/><rect x="491" y="380" width="5" height="77" fill="#000"/>
<rect x="501" y="451" width="1" height="48" fill="#000"/><rect x="499" y="454" width="5" height="22" fill="#000"/>
<rect x="509" y="428" width="1" height="21" fill="#000"/><rect x="507" y="441" width="5" height="3" fill="#000"/><rect x="508" y="442" width="3" height="1" fill="#fff"/>
<rect x="517" y="431" width="1" height="61" fill="#000"/><rect x="515" y="443" width="5" height="43" fill="#000"/>
<rect x="525" y="470" width="1" height="37" fill="#000"/><rect x="523" y="476" width="5" height="9" fill="#000"/><rect x="524" y="477" width="3" height="7" fill="#fff"/>
<rect x="533" y="423" width="1" height="80" fill="#000"/><rect x="531" y="431" width="5" height="46" fill="#000"/><rect x="532" y="432" width="3" height="44" fill="#fff"/>
<rect x="541" y="304" width="1" height="138" fill="#000"/><rect x="539" y="306" width="5" height="126" fill="#000"/><rect x="540" y="307" width="3" height="124" fill="#fff"/>
<rect x="549" y="301" width="1" height="76" fill="#000"/><rect x="547" y="305" width="5" height="57" fill="#000"/>
<rect x="557" y="352" width="1" height="24" fill="#000"/><rect x="555" y="361" width="5" height="1" fill="#000"/>
<rect x="565" y="309" width="1" height="55" fill="#000"/><rect x="563" y="327" width="5" height="34" fill="#000"/><rect x="564" y="328" width="3" height="32" fill="#fff"/>
<rect x="573" y="283" width="1" height="55" fill="#000"/><rect x="571" y="325" width="5" height="3" fill="#000"/><rect x="572" y="326" width="3" height="1" fill="#fff"/>
<rect x="581" y="326" width="1" height="75" fill="#000"/><rect x="579" y="326" width="5" height="30" fill="#000"/>
<rect x="589" y="340" width="1" height="39" fill="#000"/><rect x="587" y="356" width="5" height="12" fill="#000"/>
<rect x="597" y="314" width="1" height="69" fill="#000"/><rect x="595" y="366" width="5" height="8" fill="#000"/>
<rect x="605" y="361" width="1" height="36" fill="#000"/><rect x="603" y="373" width="5" height="6" fill="#000"/>
<rect x="613" y="363" width="1" height="48" fill="#000"/><rect x="611" y="374" width="5" height="6" fill="#000"/><rect x="612" y="375" width="3" height="4" fill="#fff"/>
<rect x="621" y="342" width="1" height="38" fill="#000"/><rect x="619" y="354" width="5" height="22" fill="#000"/><rect x="620" y="355" width="3" height="20" fill="#fff"/>
<rect x="629" y="356" width="1" height="77" fill="#000"/><rect x="627" y="356" width="5" height="77" fill="#000"/>
<rect x="637" y="420" width="1" height="74" fill="#000"/><rect x="635" y="431" width="5" height="39" fill="#000"/>
<rect x="645" y="427" width="1" height="51" fill="#000"/><rect x="643" y="453" width="5" height="17" fill="#000"/><rect x="644" y="454" width="3" height="15" fill="#fff"/>
<rect x="653" y="414" width="1" height="43" fill="#000"/><rect x="651" y="420" width="5" height="33" fill="#000"/><rect x="652" y="421" width="3" height="31" fill="#fff"/>
<rect x="661" y="416" width="1" height="54" fill="#000"/><rect x="659" y="421" width="5" height="47" fill="#000"/>
<rect x="669" y="449" width="1" height="52" fill="#000"/><rect x="667" y="450" width="5" height="17" fill="#000"/><rect x="668" y="451" width="3" height="15" fill="#fff"/>
<rect x="677" y="432" width="1" height="63" fill="#000"/><rect x="675" y="451" width="5" height="28" fill="#000"/>
<rect x="685" y="449" width="1" height="51" fill="#000"/><rect x="683" y="465" width="5" height="15" fill="#000"/><rect x="684" y="466" width="3" height="13" fill="#fff"/>
<rect x="693" y="436" width="1" height="58" fill="#000"/><rect x="691" y="464" width="5" height="9" fill="#000"/>
<rect x="701" y="431" width="1" height="43" fill="#000"/><rect x="699" y="433" width="5" height="40" fill="#000"/><rect x="700" y="434" width="3" height="38" fill="#fff"/>
<rect x="709" y="395" width="1" height="52" fill="#000"/><rect x="707" y="417" width="5" height="19" fill="#000"/><rect x="708" y="418" width="3" height="17" fill="#fff"/>
<rect x="717" y="406" width="1" height="37" fill="#000"/><rect x="715" y="418" width="5" height="22" fill="#000"/>
<rect x="725" y="386" width="1" height="65" fill="#000"/><rect x="723" y="399" width="5" height="41" fill="#000"/><rect x="724" y="400" width="3" height="39" fill="#fff"/>
<rect x="733" y="305" width="1" height="110" fill="#000"/><rect x="731" y="336" width="5" height="64" fill="#000"/><rect x="732" y="337" width="3" height="62" fill="#fff"/>
<rect x="741" y="307" width="1" height="33" fill="#000"/><rect x="739" y="312" width="5" height="26" fill="#000"/><rect x="740" y="313" width="3" height="24" fill="#fff"/>
<rect x="749" y="301" width="1" height="24" fill="#000"/><rect x="747" y="305" width="5" height="7" fill="#000"/>
<rect x="757" y="256" width="1" height="63" fill="#000"/><rect x="755" y="259" width="5" height="52" fill="#000"/><rect x="756" y="260" width="3" height="50" fill="#fff"/>
<rect x="765" y="184" width="1" height="97" fill="#000"/><rect x="763" y="208" width="5" height="51" fill="#000"/><rect x="764" y="209" width="3" height="49" fill="#fff"/>
<rect x="773" y="102" width="1" height="109" fill="#000"/><rect x="771" y="177" width="5" height="34" fill="#000"/><rect x="772" y="178" width="3" height="32" fill="#fff"/>
<rect x="781" y="150" width="1" height="136" fill="#000"/><rect x="779" y="178" width="5" height="76" fill="#000"/>
<rect x="789" y="233" width="1" height="33" fill="#000"/><rect x="787" y="252" width="5" height="4" fill="#000"/>
<rect x="797" y="240" width="1" height="28" fill="#000"/><rect x="795" y="254" width="5" height="7" fill="#000"/>
<rect x="805" y="241" width="1" height="76" fill="#000"/><rect x="803" y="261" width="5" height="11" fill="#000"/>
<rect x="813" y="225" width="1" height="52" fill="#000"/><rect x="811" y="250" width="5" height="21" fill="#000"/><rect x="812" y="251" width="3" height="19" fill="#fff"/>
<rect x="821" y="219" width="1" height="72" fill="#000"/><rect x="819" y="249" width="5" height="23" fill="#000"/>
<rect x="829" y="249" width="1" height="91" fill="#000"/><rect x="827" y="270" width="5" height="66" fill="#000"/>
<rect x="837" y="286" width="1" height="85" fill="#000"/><rect x="835" y="333" width="5" height="35" fill="#000"/>
<rect x="845" y="323" width="1" height="48" fill="#000"/><rect x="843" y="346" width="5" height="22" fill="#000"/><rect x="844" y="347" width="3" height="20" fill="#fff"/>
<rect x="853" y="328" width="1" height="103" fill="#000"/><rect x="851" y="345" width="5" height="41" fill="#000"/>
<rect x="861" y="350" width="1" height="47" fill="#000"/><rect x="859" y="382" width="5" height="4" fill="#000"/><rect x="860" y="383" width="3" height="2" fill="#fff"/>
<rect x="869" y="369" width="1" height="81" fill="#000"/><rect x="867" y="382" width="5" height="27" fill="#000"/>
<rect x="877" y="307" width="1" height="112" fill="#000"/><rect x="875" y="344" width="5" height="65" fill="#000"/><rect x="876" y="345" width="3" height="63" fill="#fff"/>
<rect x="885" y="302" width="1" height="74" fill="#000"/><rect x="883" y="327" width="5" height="19" fill="#000"/><rect x="884" y="328" width="3" height="17" fill="#fff"/>
<rect x="893" y="319" width="1" height="43" fill="#000"/><rect x="891" y="327" width="5" height="27" fill="#000"/>
<rect x="901" y="323" width="1" height="74" fill="#000"/><rect x="899" y="330" width="5" height="22" fill="#000"/><rect x="900" y="331" width="3" height="20" fill="#fff"/>
<rect x="909" y="304" width="1" height="47" fill="#000"/><rect x="907" y="312" width="5" height="20" fill="#000"/><rect x="908" y="313" width="3" height="18" fill="#fff"/>
<rect x="917" y="258" width="1" height="88" fill="#000"/><rect x="915" y="260" width="5" height="53" fill="#000"/><rect x="916" y="261" width="3" height="51" fill="#fff"/>
<rect x="925" y="222" width="1" height="135" fill="#000"/><rect x="923" y="260" width="5" height="87" fill="#000"/>
<rect x="933" y="329" width="1" height="55" fill="#000"/><rect x="931" y="344" width="5" height="12" fill="#000"/>
<rect x="941" y="336" width="1" height="34" fill="#000"/><rect x="939" y="339" width="5" height="17" fill="#000"/><rect x="940" y="340" width="3" height="15" fill="#fff"/>
<rect x="949" y="308" width="1" height="39" fill="#000"/><rect x="947" y="339" width="5" height="3" fill="#000"/><rect x="948" y="340" width="3" height="1" fill="#fff"/>
<rect x="957" y="314" width="1" height="45" fill="#000"/><rect x="955" y="339" width="5" height="3" fill="#000"/>
<rect x="965" y="298" width="1" height="162" fill="#000"/><rect x="963" y="339" width="5" height="100" fill="#000"/>
<rect x="973" y="428" width="1" height="75" fill="#000"/><rect x="971" y="439" width="5" height="64" fill="#000"/>
<rect x="981" y="486" width="1" height="29" fill="#000"/><rect x="979" y="500" width="5" height="6" fill="#000"/>
<rect x="989" y="438" width="1" height="26" fill="#000"/><rect x="987" y="442" width="5" height="20" fill="#000"/><rect x="988" y="443" width="3" height="18" fill="#fff"/>
<rect x="997" y="417" width="1" height="41" fill="#000"/><rect x="995" y="443" width="5" height="8" fill="#000"/>
<rect x="1005" y="372" width="1" height="81" fill="#000"/><rect x="1003" y="377" width="5" height="75" fill="#000"/><rect x="1004" y="378" width="3" height="73" fill="#fff"/>
<rect x="1013" y="345" width="1" height="40" fill="#000"/><rect x="1011" y="362" width="5" height="17" fill="#000"/><rect x="1012" y="363" width="3" height="15" fill="#fff"/>
<rect x="1021" y="278" width="1" height="97" fill="#000"/><rect x="1019" y="279" width="5" height="84" fill="#000"/><rect x="1020" y="280" width="3" height="82" fill="#fff"/>
<rect x="1029" y="275" width="1" height="64" fill="#000"/><rect x="1027" y="276" width="5" height="3" fill="#000"/><rect x="1028" y="277" width="3" height="1" fill="#fff"/>
<rect x="1037" y="276" width="1" height="28" fill="#000"/><rect x="1035" y="277" width="5" height="10" fill="#000"/>
<rect x="1045" y="224" width="1" height="75" fill="#000"/><rect x="1043" y="286" width="5" height="6" fill="#000"/>
<rect x="1053" y="284" width="1" height="42" fill="#000"/><rect x="1051" y="290" width="5" height="36" fill="#000"/>
<rect x="1061" y="325" width="1" height="68" fill="#000"/><rect x="1059" y="326" width="5" height="19" fill="#000"/>
<rect x="1069" y="324" width="1" height="67" fill="#000"/><rect x="1067" y="344" width="5" height="45" fill="#000"/>
<rect x="1077" y="326" width="1" height="62" fill="#000"/><rect x="1075" y="334" width="5" height="54" fill="#000"/><rect x="1076" y="335" width="3" height="52" fill="#fff"/>
<rect x="1085" y="329" width="1" height="19" fill="#000"/><rect x="1083" y="336" width="5" height="1" fill="#000"/>
<rect x="1093" y="328" width="1" height="32" fill="#000"/><rect x="1091" y="335" width="5" height="11" fill="#000"/>
<rect x="1101" y="331" width="1" height="50" fill="#000"/><rect x="1099" y="344" width="5" height="23" fill="#000"/>
<rect x="1109" y="264" width="1" height="105" fill="#000"/><rect x="1107" y="272" width="5" height="94" fill="#000"/><rect x="1108" y="273" width="3" height="92" fill="#fff"/>
<rect x="1117" y="234" width="1" height="64" fill="#000"/><rect x="1115" y="235" width="5" height="38" fill="#000"/><rect x="1116" y="236" width="3" height="36" fill="#fff"/>
<rect x="1125" y="110" width="1" height="133" fill="#000"/><rect x="1123" y="111" width="5" height="125" fill="#000"/><rect x="1124" y="112" width="3" height="123" fill="#fff"/>
<rect x="1133" y="60" width="1" height="115" fill="#000"/><rect x="1131" y="111" width="5" height="23" fill="#000"/>
<rect x="1141" y="102" width="1" height="52" fill="#000"/><rect x="1139" y="117" width="5" height="14" fill="#000"/><rect x="1140" y="118" width="3" height="12" fill="#fff"/>
<rect x="1149" y="67" width="1" height="58" fill="#000"/><rect x="1147" y="92" width="5" height="26" fill="#000"/><rect x="1148" y="93" width="3" height="24" fill="#fff"/>
<rect x="1157" y="80" width="1" height="65" fill="#000"/><rect x="1155" y="92" width="5" height="42" fill="#000"/>
<rect x="1165" y="118" width="1" height="46" fill="#000"/><rect x="1163" y="133" width="5" height="15" fill="#000"/>
<rect x="1173" y="131" width="1" height="28" fill="#000"/><rect x="1171" y="141" width="5" height="7" fill="#000"/><rect x="1172" y="142" width="3" height="5" fill="#fff"/>
<rect x="1181" y="130" width="1" height="23" fill="#000"/><rect x="1179" y="131" width="5" height="11" fill="#000"/><rect x="1180" y="132" width="3" height="9" fill="#fff"/>
<rect x="1189" y="121" width="1" height="34" fill="#000"/><rect x="1187" y="135" width="5" height="3" fill="#000"/>
<rect x="1197" y="115" width="1" height="43" fill="#000"/><rect x="1195" y="126" width="5" height="12" fill="#000"/><rect x="1196" y="127" width="3" height="10" fill="#fff"/>
<rect x="1205" y="121" width="1" height="66" fill="#000"/><rect x="1203" y="125" width="5" height="21" fill="#000"/>
<rect x="1213" y="86" width="1" height="83" fill="#000"/><rect x="1211" y="90" width="5" height="55" fill="#000"/><rect x="1212" y="91" width="3" height="53" fill="#fff"/>
<rect x="1221" y="81" width="1" height="42" fill="#000"/><rect x="1219" y="90" width="5" height="8" fill="#000"/>
<rect x="1229" y="121" width="1" height="19" fill="#000"/><rect x="1227" y="128" width="5" height="7" fill="#000"/><rect x="1228" y="129" width="3" height="5" fill="#fff"/>
<rect x="1237" y="78" width="1" height="56" fill="#000"/><rect x="1235" y="89" width="5" height="43" fill="#000"/><rect x="1236" y="90" width="3" height="41" fill="#fff"/>
<rect x="1245" y="74" width="1" height="44" fill="#000"/><rect x="1243" y="89" width="5" height="17" fill="#000"/>
<rect x="1253" y="76" width="1" height="64" fill="#000"/><rect x="1251" y="107" width="5" height="8" fill="#000"/>
<rect x="1261" y="57" width="1" height="157" fill="#000"/><rect x="1259" y="114" width="5" height="100" fill="#000"/>
<rect x="1269" y="170" width="1" height="49" fill="#000"/><rect x="1267" y="198" width="5" height="16" fill="#000"/><rect x="1268" y="199" width="3" height="14" fill="#fff"/>
<rect x="1277" y="187" width="1" height="25" fill="#000"/><rect x="1275" y="198" width="5" height="14" fill="#000"/>
</g>
<rect x="1188" y="166" width="106" height="14" fill="#00ff00"/>
<g shape-rendering="crispEdges"><rect x="1259" y="114" width="5" height="100" fill="#000"/></g>
</g>
<g clip-path="url(#cd)" shape-rendering="crispEdges">
<rect x="5" y="696" width="1" height="15" fill="#c0c0c0"/>
<rect x="13" y="696" width="1" height="16" fill="#c0c0c0"/>
<rect x="21" y="696" width="1" height="20" fill="#c0c0c0"/>
<rect x="29" y="696" width="1" height="22" fill="#c0c0c0"/>
<rect x="37" y="696" width="1" height="24" fill="#c0c0c0"/>
<rect x="45" y="696" width="1" height="19" fill="#c0c0c0"/>
<rect x="53" y="696" width="1" height="19" fill="#c0c0c0"/>
<rect x="61" y="696" width="1" height="4" fill="#c0c0c0"/>
<rect x="69" y="688" width="1" height="9" fill="#c0c0c0"/>
<rect x="77" y="679" width="1" height="18" fill="#c0c0c0"/>
<rect x="85" y="676" width="1" height="21" fill="#c0c0c0"/>
<rect x="93" y="677" width="1" height="20" fill="#c0c0c0"/>
<rect x="101" y="674" width="1" height="23" fill="#c0c0c0"/>
<rect x="109" y="662" width="1" height="35" fill="#c0c0c0"/>
<rect x="117" y="665" width="1" height="32" fill="#c0c0c0"/>
<rect x="125" y="664" width="1" height="33" fill="#c0c0c0"/>
<rect x="133" y="665" width="1" height="32" fill="#c0c0c0"/>
<rect x="141" y="659" width="1" height="38" fill="#c0c0c0"/>
<rect x="149" y="653" width="1" height="44" fill="#c0c0c0"/>
<rect x="157" y="655" width="1" height="42" fill="#c0c0c0"/>
<rect x="165" y="650" width="1" height="47" fill="#c0c0c0"/>
<rect x="173" y="648" width="1" height="49" fill="#c0c0c0"/>
<rect x="181" y="644" width="1" height="53" fill="#c0c0c0"/>
<rect x="189" y="641" width="1" height="56" fill="#c0c0c0"/>
<rect x="197" y="646" width="1" height="51" fill="#c0c0c0"/>
<rect x="205" y="659" width="1" height="38" fill="#c0c0c0"/>
<rect x="213" y="669" width="1" height="28" fill="#c0c0c0"/>
<rect x="221" y="681" width="1" height="16" fill="#c0c0c0"/>
<rect x="229" y="684" width="1" height="13" fill="#c0c0c0"/>
<rect x="237" y="686" width="1" height="11" fill="#c0c0c0"/>
<rect x="245" y="689" width="1" height="8" fill="#c0c0c0"/>
<rect x="253" y="690" width="1" height="7" fill="#c0c0c0"/>
<rect x="261" y="690" width="1" height="7" fill="#c0c0c0"/>
<rect x="269" y="692" width="1" height="5" fill="#c0c0c0"/>
<rect x="277" y="693" width="1" height="4" fill="#c0c0c0"/>
<rect x="285" y="691" width="1" height="6" fill="#c0c0c0"/>
<rect x="293" y="691" width="1" height="6" fill="#c0c0c0"/>
<rect x="301" y="688" width="1" height="9" fill="#c0c0c0"/>
<rect x="309" y="692" width="1" height="5" fill="#c0c0c0"/>
<rect x="317" y="691" width="1" height="6" fill="#c0c0c0"/>
<rect x="325" y="688" width="1" height="9" fill="#c0c0c0"/>
<rect x="333" y="684" width="1" height="13" fill="#c0c0c0"/>
<rect x="341" y="676" width="1" height="21" fill="#c0c0c0"/>
<rect x="349" y="671" width="1" height="26" fill="#c0c0c0"/>
<rect x="357" y="660" width="1" height="37" fill="#c0c0c0"/>
<rect x="365" y="656" width="1" height="41" fill="#c0c0c0"/>
<rect x="373" y="656" width="1" height="41" fill="#c0c0c0"/>
<rect x="381" y="658" width="1" height="39" fill="#c0c0c0"/>
<rect x="389" y="659" width="1" height="38" fill="#c0c0c0"/>
<rect x="397" y="662" width="1" height="35" fill="#c0c0c0"/>
<rect x="405" y="673" width="1" height="24" fill="#c0c0c0"/>
<rect x="413" y="682" width="1" height="15" fill="#c0c0c0"/>
<rect x="421" y="696" width="1" height="5" fill="#c0c0c0"/>
<rect x="429" y="696" width="1" height="7" fill="#c0c0c0"/>
<rect x="437" y="696" width="1" height="4" fill="#c0c0c0"/>
<rect x="445" y="696" width="1" height="4" fill="#c0c0c0"/>
<rect x="453" y="696" width="1" height="4" fill="#c0c0c0"/>
<rect x="461" y="696" width="1" height="6" fill="#c0c0c0"/>
<rect x="469" y="696" width="1" height="10" fill="#c0c0c0"/>
<rect x="477" y="696" width="1" height="10" fill="#c0c0c0"/>
<rect x="485" y="696" width="1" height="11" fill="#c0c0c0"/>
<rect x="493" y="696" width="1" height="21" fill="#c0c0c0"/>
<rect x="501" y="696" width="1" height="32" fill="#c0c0c0"/>
<rect x="509" y="696" width="1" height="35" fill="#c0c0c0"/>
<rect x="517" y="696" width="1" height="43" fill="#c0c0c0"/>
<rect x="525" y="696" width="1" height="48" fill="#c0c0c0"/>
<rect x="533" y="696" width="1" height="45" fill="#c0c0c0"/>
<rect x="541" y="696" width="1" height="26" fill="#c0c0c0"/>
<rect x="549" y="696" width="1" height="18" fill="#c0c0c0"/>
<rect x="557" y="696" width="1" height="11" fill="#c0c0c0"/>
<rect x="573" y="689" width="1" height="8" fill="#c0c0c0"/>
<rect x="581" y="686" width="1" height="11" fill="#c0c0c0"/>
<rect x="589" y="686" width="1" height="11" fill="#c0c0c0"/>
<rect x="597" y="687" width="1" height="10" fill="#c0c0c0"/>
<rect x="605" y="689" width="1" height="8" fill="#c0c0c0"/>
<rect x="613" y="690" width="1" height="7" fill="#c0c0c0"/>
<rect x="621" y="688" width="1" height="9" fill="#c0c0c0"/>
<rect x="637" y="696" width="1" height="13" fill="#c0c0c0"/>
<rect x="645" y="696" width="1" height="20" fill="#c0c0c0"/>
<rect x="653" y="696" width="1" height="21" fill="#c0c0c0"/>
<rect x="661" y="696" width="1" height="28" fill="#c0c0c0"/>
<rect x="669" y="696" width="1" height="30" fill="#c0c0c0"/>
<rect x="677" y="696" width="1" height="36" fill="#c0c0c0"/>
<rect x="685" y="696" width="1" height="38" fill="#c0c0c0"/>
<rect x="693" y="696" width="1" height="40" fill="#c0c0c0"/>
<rect x="701" y="696" width="1" height="36" fill="#c0c0c0"/>
<rect x="709" y="696" width="1" height="31" fill="#c0c0c0"/>
<rect x="717" y="696" width="1" height="29" fill="#c0c0c0"/>
<rect x="725" y="696" width="1" height="22" fill="#c0c0c0"/>
<rect x="733" y="696" width="1" height="8" fill="#c0c0c0"/>
<rect x="741" y="689" width="1" height="8" fill="#c0c0c0"/>
<rect x="749" y="678" width="1" height="19" fill="#c0c0c0"/>
<rect x="757" y="662" width="1" height="35" fill="#c0c0c0"/>
<rect x="765" y="644" width="1" height="53" fill="#c0c0c0"/>
<rect x="773" y="626" width="1" height="71" fill="#c0c0c0"/>
<rect x="781" y="623" width="1" height="74" fill="#c0c0c0"/>
<rect x="789" y="621" width="1" height="76" fill="#c0c0c0"/>
<rect x="797" y="622" width="1" height="75" fill="#c0c0c0"/>
<rect x="805" y="624" width="1" height="73" fill="#c0c0c0"/>
<rect x="813" y="624" width="1" height="73" fill="#c0c0c0"/>
<rect x="821" y="628" width="1" height="69" fill="#c0c0c0"/>
<rect x="829" y="640" width="1" height="57" fill="#c0c0c0"/>
<rect x="837" y="654" width="1" height="43" fill="#c0c0c0"/>
<rect x="845" y="663" width="1" height="34" fill="#c0c0c0"/>
<rect x="853" y="676" width="1" height="21" fill="#c0c0c0"/>
<rect x="861" y="685" width="1" height="12" fill="#c0c0c0"/>
<rect x="885" y="695" width="1" height="2" fill="#c0c0c0"/>
<rect x="901" y="695" width="1" height="2" fill="#c0c0c0"/>
<rect x="909" y="691" width="1" height="6" fill="#c0c0c0"/>
<rect x="917" y="682" width="1" height="15" fill="#c0c0c0"/>
<rect x="925" y="686" width="1" height="11" fill="#c0c0c0"/>
<rect x="933" y="690" width="1" height="7" fill="#c0c0c0"/>
<rect x="941" y="691" width="1" height="6" fill="#c0c0c0"/>
<rect x="949" y="693" width="1" height="4" fill="#c0c0c0"/>
<rect x="957" y="694" width="1" height="3" fill="#c0c0c0"/>
<rect x="965" y="696" width="1" height="13" fill="#c0c0c0"/>
<rect x="973" y="696" width="1" height="32" fill="#c0c0c0"/>
<rect x="981" y="696" width="1" height="47" fill="#c0c0c0"/>
<rect x="989" y="696" width="1" height="49" fill="#c0c0c0"/>
<rect x="997" y="696" width="1" height="52" fill="#c0c0c0"/>
<rect x="1005" y="696" width="1" height="44" fill="#c0c0c0"/>
<rect x="1013" y="696" width="1" height="36" fill="#c0c0c0"/>
<rect x="1021" y="696" width="1" height="17" fill="#c0c0c0"/>
<rect x="1029" y="696" width="1" height="3" fill="#c0c0c0"/>
<rect x="1037" y="687" width="1" height="10" fill="#c0c0c0"/>
<rect x="1045" y="680" width="1" height="17" fill="#c0c0c0"/>
<rect x="1053" y="679" width="1" height="18" fill="#c0c0c0"/>
<rect x="1061" y="681" width="1" height="16" fill="#c0c0c0"/>
<rect x="1069" y="688" width="1" height="9" fill="#c0c0c0"/>
<rect x="1077" y="687" width="1" height="10" fill="#c0c0c0"/>
<rect x="1085" y="686" width="1" height="11" fill="#c0c0c0"/>
<rect x="1093" y="687" width="1" height="10" fill="#c0c0c0"/>
<rect x="1101" y="691" width="1" height="6" fill="#c0c0c0"/>
<rect x="1109" y="681" width="1" height="16" fill="#c0c0c0"/>
<rect x="1117" y="669" width="1" height="28" fill="#c0c0c0"/>
<rect x="1125" y="643" width="1" height="54" fill="#c0c0c0"/>
<rect x="1133" y="627" width="1" height="70" fill="#c0c0c0"/>
<rect x="1141" y="613" width="1" height="84" fill="#c0c0c0"/>
<rect x="1149" y="599" width="1" height="98" fill="#c0c0c0"/>
<rect x="1157" y="595" width="1" height="102" fill="#c0c0c0"/>
<rect x="1165" y="595" width="1" height="102" fill="#c0c0c0"/>
<rect x="1173" y="595" width="1" height="102" fill="#c0c0c0"/>
<rect x="1181" y="595" width="1" height="102" fill="#c0c0c0"/>
<rect x="1189" y="597" width="1" height="100" fill="#c0c0c0"/>
<rect x="1197" y="598" width="1" height="99" fill="#c0c0c0"/>
<rect x="1205" y="603" width="1" height="94" fill="#c0c0c0"/>
<rect x="1213" y="600" width="1" height="97" fill="#c0c0c0"/>
<rect x="1221" y="600" width="1" height="97" fill="#c0c0c0"/>
<rect x="1229" y="605" width="1" height="92" fill="#c0c0c0"/>
<rect x="1237" y="605" width="1" height="92" fill="#c0c0c0"/>
<rect x="1245" y="608" width="1" height="89" fill="#c0c0c0"/>
<rect x="1253" y="613" width="1" height="84" fill="#c0c0c0"/>
<rect x="1261" y="630" width="1" height="67" fill="#c0c0c0"/>
<rect x="1269" y="643" width="1" height="54" fill="#c0c0c0"/>
<rect x="1277" y="655" width="1" height="42" fill="#c0c0c0"/>
</g>
<g clip-path="url(#cd)"><polyline points="-3,652.63 5,663.77 13,674.91 21,684.87 29,693.43 37,700.81 45,706.13 53,710.14 61,711.08 69,709.58 77,706.24 85,702.31 93,698.06 101,693.38 109,687.01 117,681.59 125,676.02 133,672.33 141,669.09 149,666.16 157,663.82 165,660.82 173,657.87 181,655.92 189,653.21 197,651.16 205,650.44 213,651.62 221,654.73 229,658 237,662.04 245,666.66 253,671.69 261,677.21 269,682.34 277,686.14 285,688.57 293,689.61 301,690.04 309,690.71 317,690.93 325,690.78 333,690.09 341,688.31 349,685.85 357,682.45 365,678.62 373,675.07 381,671.24 389,667.59 397,664.66 405,663.4 413,664.06 421,667.28 429,671.87 437,676.69 445,681.43 453,686.03 461,690.72 469,695.48 477,699.12 485,701.81 493,703.62 501,706.39 509,709.79 517,714.15 525,718.97 533,723.32 541,725.07 549,725.86 557,725.88 565,723.66 573,719.42 581,714.57 589,708.83 597,702.68 605,697.01 613,693.56 621,690.77 629,689.69 637,690.99 645,693.94 653,697.22 661,701.24 669,705.46 677,710.12 685,714.94 693,720.23 701,724.11 709,726.07 717,727.05 725,727.17 733,724.98 741,720.93 749,715.02 757,707.16 765,697.02 773,685.31 781,673.87 789,662.46 797,651.87 805,643.13 813,635.97 821,630.47 829,628.01 837,629.19 845,633.34 853,639.24 861,646.37 869,654.68 877,662.74 885,670.55 893,678.16 901,684.26 909,688.36 917,690.4 925,691.5 933,692.01 941,691.45 949,690.99 957,690.89 965,692.12 973,695.63 981,701.22 989,708.2 997,715.04 1005,720.51 1013,724.86 1021,727.05 1029,727.47 1037,725.21 1045,720.03 1053,713.06 1061,705.97 1069,699.4 1077,693.58 1085,688.67 1093,685.87 1101,685.11 1109,684.43 1117,683.21 1125,679.27 1133,673.29 1141,664.9 1149,655.14 1157,644.99 1165,634.73 1173,624.09 1181,614.51 1189,606.51 1197,601.47 1205,598.78 1213,597.39 1221,597.49 1229,598.62 1237,599.77 1245,601.24 1253,603.22 1261,606.94 1269,611.92 1277,617.75" fill="none" stroke="#ff0000" stroke-width="1" stroke-dasharray="3,3" shape-rendering="crispEdges"/></g>
<g clip-path="url(#cr)">
<line x1="-2" y1="793.5" x2="1616" y2="793.5" stroke="#c0c0c0" stroke-width="1" stroke-dasharray="3,3" shape-rendering="crispEdges"/>
<line x1="-2" y1="844.5" x2="1616" y2="844.5" stroke="#c0c0c0" stroke-width="1" stroke-dasharray="3,3" shape-rendering="crispEdges"/>
<line x1="-2" y1="905.5" x2="1616" y2="905.5" stroke="#c0c0c0" stroke-width="1" stroke-dasharray="3,3" shape-rendering="crispEdges"/>
<polyline points="-3,851.3 5,856.5 13,848.12 21,850.54 29,849.11 37,850.98 45,842.55 53,848.11 61,832.53 69,834.32 77,834.32 85,837.76 93,842.14 101,838.25 109,827.36 117,842.28 125,838.7 133,840.55 141,832.32 149,831.81 157,838.83 165,831.99 173,833.59 181,831.05 189,829.19 197,840.16 205,850.77 213,850.24 221,854.52 229,845.49 237,844.78 245,846.82 253,843.46 261,843.88 269,845.64 277,845.64 285,839.92 293,842.26 301,838.08 309,850.08 317,841.69 325,838 333,834.16 341,826.47 349,829.47 357,819.47 365,827.18 373,833.6 381,836.34 389,834.27 397,839.77 405,854.14 413,854.81 421,870.47 429,847.98 437,842.56 445,844.37 453,846.04 461,847.76 469,852.88 477,847.93 485,848.16 493,863.8 501,867.01 509,857.84 517,865.53 525,863.1 533,851.72 541,828.83 549,839.46 557,839.46 565,833.83 573,833.5 581,839.93 589,842.45 597,843.75 605,844.88 613,843.93 621,839.11 629,856.66 637,863.27 645,859.09 653,850.92 661,859.77 669,855.58 677,860.72 685,857.34 693,858.73 701,848.56 709,844.7 717,849.84 725,840.28 733,827.94 741,823.9 749,823.73 757,815.42 765,808.67 773,805.05 781,825.15 789,825.63 797,826.89 805,829.76 813,825.93 821,831.67 829,846.76 837,853.13 845,848.32 853,855.93 861,855.19 869,860.19 877,845.02 885,841.48 893,847.12 901,842.09 909,838.28 917,828.36 925,846.93 933,848.61 941,845.28 949,845.28 957,845.74 965,864.25 973,873.16 981,873.54 989,858.38 997,859.66 1005,844.67 1013,841.93 1021,828.66 1029,828.22 1037,830.44 1045,831.6 1053,839.31 1061,843.39 1069,852.16 1077,841.2 1085,841.62 1093,843.58 1101,848.15 1109,830.07 1117,824.43 1125,809.83 1133,814.74 1141,813.01 1149,810.32 1157,819.97 1165,823.14 1173,822.3 1181,820.84 1189,822.44 1197,820.65 1205,826.09 1213,817.08 1221,819.12 1229,827.93 1237,821.22 1245,825.71 1253,828.25 1261,851.09 1269,847.84 1277,850.47" fill="none" stroke="#1e90ff" stroke-width="1" shape-rendering="crispEdges"/>
</g>
<g shape-rendering="crispEdges" fill="#000">
<rect x="0" y="30" width="1617" height="1"/>
<rect x="0" y="583" width="1617" height="1"/>
<rect x="1616" y="30" width="1" height="554"/>
<rect x="0" y="585" width="1617" height="1"/>
<rect x="0" y="755" width="1617" height="1"/>
<rect x="1616" y="585" width="1" height="171"/>
<rect x="0" y="757" width="1617" height="1"/>
<rect x="0" y="931" width="1617" height="1"/>
<rect x="1616" y="757" width="1" height="175"/>
</g>
<g shape-rendering="crispEdges" fill="#000">
<rect x="1617" y="52" width="3" height="1"/>
<rect x="1617" y="85" width="3" height="1"/>
<rect x="1617" y="118" width="3" height="1"/>
<rect x="1617" y="151" width="3" height="1"/>
<rect x="1617" y="184" width="3" height="1"/>
<rect x="1617" y="217" width="3" height="1"/>
<rect x="1617" y="250" width="3" height="1"/>
<rect x="1617" y="283" width="3" height="1"/>
<rect x="1617" y="316" width="3" height="1"/>
<rect x="1617" y="349" width="3" height="1"/>
<rect x="1617" y="382" width="3" height="1"/>
<rect x="1617" y="415" width="3" height="1"/>
<rect x="1617" y="448" width="3" height="1"/>
<rect x="1617" y="481" width="3" height="1"/>
<rect x="1617" y="514" width="3" height="1"/>
<rect x="1617" y="547" width="3" height="1"/>
<rect x="1617" y="580" width="3" height="1"/>
</g>
<text transform="translate(1622.5,56) scale(0.98,1)" font-size="9.5" fill="#000" stroke="#000" stroke-width="0.15" text-anchor="start" font-weight="normal" style="font-family:'Liberation Sans', 'Noto Sans CJK SC', sans-serif" >141.830</text>
<text transform="translate(1622.5,89) scale(0.98,1)" font-size="9.5" fill="#000" stroke="#000" stroke-width="0.15" text-anchor="start" font-weight="normal" style="font-family:'Liberation Sans', 'Noto Sans CJK SC', sans-serif" >141.650</text>
<text transform="translate(1622.5,122) scale(0.98,1)" font-size="9.5" fill="#000" stroke="#000" stroke-width="0.15" text-anchor="start" font-weight="normal" style="font-family:'Liberation Sans', 'Noto Sans CJK SC', sans-serif" >141.465</text>
<text transform="translate(1622.5,155) scale(0.98,1)" font-size="9.5" fill="#000" stroke="#000" stroke-width="0.15" text-anchor="start" font-weight="normal" style="font-family:'Liberation Sans', 'Noto Sans CJK SC', sans-serif" >141.285</text>
<text transform="translate(1622.5,188) scale(0.98,1)" font-size="9.5" fill="#000" stroke="#000" stroke-width="0.15" text-anchor="start" font-weight="normal" style="font-family:'Liberation Sans', 'Noto Sans CJK SC', sans-serif" >141.105</text>
<text transform="translate(1622.5,221) scale(0.98,1)" font-size="9.5" fill="#000" stroke="#000" stroke-width="0.15" text-anchor="start" font-weight="normal" style="font-family:'Liberation Sans', 'Noto Sans CJK SC', sans-serif" >140.925</text>
<text transform="translate(1622.5,254) scale(0.98,1)" font-size="9.5" fill="#000" stroke="#000" stroke-width="0.15" text-anchor="start" font-weight="normal" style="font-family:'Liberation Sans', 'Noto Sans CJK SC', sans-serif" >140.745</text>
<text transform="translate(1622.5,287) scale(0.98,1)" font-size="9.5" fill="#000" stroke="#000" stroke-width="0.15" text-anchor="start" font-weight="normal" style="font-family:'Liberation Sans', 'Noto Sans CJK SC', sans-serif" >140.565</text>
<text transform="translate(1622.5,320) scale(0.98,1)" font-size="9.5" fill="#000" stroke="#000" stroke-width="0.15" text-anchor="start" font-weight="normal" style="font-family:'Liberation Sans', 'Noto Sans CJK SC', sans-serif" >140.385</text>
<text transform="translate(1622.5,353) scale(0.98,1)" font-size="9.5" fill="#000" stroke="#000" stroke-width="0.15" text-anchor="start" font-weight="normal" style="font-family:'Liberation Sans', 'Noto Sans CJK SC', sans-serif" >140.205</text>
<text transform="translate(1622.5,386) scale(0.98,1)" font-size="9.5" fill="#000" stroke="#000" stroke-width="0.15" text-anchor="start" font-weight="normal" style="font-family:'Liberation Sans', 'Noto Sans CJK SC', sans-serif" >140.025</text>
<text transform="translate(1622.5,419) scale(0.98,1)" font-size="9.5" fill="#000" stroke="#000" stroke-width="0.15" text-anchor="start" font-weight="normal" style="font-family:'Liberation Sans', 'Noto Sans CJK SC', sans-serif" >139.845</text>
<text transform="translate(1622.5,452) scale(0.98,1)" font-size="9.5" fill="#000" stroke="#000" stroke-width="0.15" text-anchor="start" font-weight="normal" style="font-family:'Liberation Sans', 'Noto Sans CJK SC', sans-serif" >139.665</text>
<text transform="translate(1622.5,485) scale(0.98,1)" font-size="9.5" fill="#000" stroke="#000" stroke-width="0.15" text-anchor="start" font-weight="normal" style="font-family:'Liberation Sans', 'Noto Sans CJK SC', sans-serif" >139.485</text>
<text transform="translate(1622.5,518) scale(0.98,1)" font-size="9.5" fill="#000" stroke="#000" stroke-width="0.15" text-anchor="start" font-weight="normal" style="font-family:'Liberation Sans', 'Noto Sans CJK SC', sans-serif" >139.305</text>
<text transform="translate(1622.5,551) scale(0.98,1)" font-size="9.5" fill="#000" stroke="#000" stroke-width="0.15" text-anchor="start" font-weight="normal" style="font-family:'Liberation Sans', 'Noto Sans CJK SC', sans-serif" >139.125</text>
<text transform="translate(1622.5,584) scale(0.98,1)" font-size="9.5" fill="#000" stroke="#000" stroke-width="0.15" text-anchor="start" font-weight="normal" style="font-family:'Liberation Sans', 'Noto Sans CJK SC', sans-serif" >138.945</text>
<rect x="1618" y="93" width="41" height="11" fill="#ff0000"/>
<text transform="translate(1622.5,102) scale(0.98,1)" font-size="9.5" fill="#fff" stroke="#fff" stroke-width="0.15" text-anchor="start" font-weight="normal" style="font-family:'Liberation Sans', 'Noto Sans CJK SC', sans-serif" >141.569</text>
<rect x="1610" y="96" width="6" height="6" fill="#ff0000"/><rect x="1612" y="98" width="2" height="2" fill="#fff"/>
<rect x="1618" y="135" width="41" height="11" fill="#ff0000"/>
<text transform="translate(1622.5,144) scale(0.98,1)" font-size="9.5" fill="#fff" stroke="#fff" stroke-width="0.15" text-anchor="start" font-weight="normal" style="font-family:'Liberation Sans', 'Noto Sans CJK SC', sans-serif" >141.340</text>
<rect x="1610" y="138" width="6" height="6" fill="#ff0000"/><rect x="1612" y="140" width="2" height="2" fill="#fff"/>
<rect x="1618" y="166" width="41" height="11" fill="#32cd32"/>
<text transform="translate(1622.5,175) scale(0.98,1)" font-size="9.5" fill="#fff" stroke="#fff" stroke-width="0.15" text-anchor="start" font-weight="normal" style="font-family:'Liberation Sans', 'Noto Sans CJK SC', sans-serif" >141.175</text>
<rect x="1610" y="169" width="6" height="6" fill="#32cd32"/><rect x="1612" y="171" width="2" height="2" fill="#fff"/>
<rect x="1618" y="205" width="41" height="11" fill="#000000"/>
<text transform="translate(1622.5,214) scale(0.98,1)" font-size="9.5" fill="#fff" stroke="#fff" stroke-width="0.15" text-anchor="start" font-weight="normal" style="font-family:'Liberation Sans', 'Noto Sans CJK SC', sans-serif" >140.960</text>
<rect x="1618" y="242" width="41" height="11" fill="#0000ff"/>
<text transform="translate(1622.5,251) scale(0.98,1)" font-size="9.5" fill="#fff" stroke="#fff" stroke-width="0.15" text-anchor="start" font-weight="normal" style="font-family:'Liberation Sans', 'Noto Sans CJK SC', sans-serif" >140.757</text>
<rect x="1610" y="245" width="6" height="6" fill="#0000ff"/><rect x="1612" y="247" width="2" height="2" fill="#fff"/>
<rect x="1618" y="283" width="41" height="11" fill="#0000ff"/>
<text transform="translate(1622.5,292) scale(0.98,1)" font-size="9.5" fill="#fff" stroke="#fff" stroke-width="0.15" text-anchor="start" font-weight="normal" style="font-family:'Liberation Sans', 'Noto Sans CJK SC', sans-serif" >140.533</text>
<rect x="1610" y="286" width="6" height="6" fill="#0000ff"/><rect x="1612" y="288" width="2" height="2" fill="#fff"/>
<rect x="0" y="245" width="2" height="6" fill="#0000ff"/><rect x="0" y="286" width="2" height="6" fill="#0000ff"/>
<rect x="0" y="96" width="2" height="6" fill="#ff0000"/><rect x="0" y="138" width="2" height="6" fill="#ff0000"/><rect x="0" y="169" width="2" height="6" fill="#32cd32"/>
<g shape-rendering="crispEdges" fill="#000">
<rect x="1617" y="587" width="2" height="1"/>
<rect x="1617" y="696" width="2" height="1"/>
<rect x="1617" y="754" width="2" height="1"/>
</g>
<text transform="translate(1620,596) scale(0.98,1)" font-size="9.5" fill="#000" stroke="#000" stroke-width="0.15" text-anchor="start" font-weight="normal" style="font-family:'Liberation Sans', 'Noto Sans CJK SC', sans-serif" >0.36</text>
<text transform="translate(1620,700) scale(0.98,1)" font-size="9.5" fill="#000" stroke="#000" stroke-width="0.15" text-anchor="start" font-weight="normal" style="font-family:'Liberation Sans', 'Noto Sans CJK SC', sans-serif" >0.00</text>
<text transform="translate(1620,752) scale(0.98,1)" font-size="9.5" fill="#000" stroke="#000" stroke-width="0.15" text-anchor="start" font-weight="normal" style="font-family:'Liberation Sans', 'Noto Sans CJK SC', sans-serif" >-0.1942</text>
<g shape-rendering="crispEdges" fill="#000">
<rect x="1617" y="759" width="2" height="1"/>
<rect x="1617" y="793" width="2" height="1"/>
<rect x="1617" y="844" width="2" height="1"/>
<rect x="1617" y="905" width="2" height="1"/>
<rect x="1617" y="930" width="2" height="1"/>
</g>
<text transform="translate(1620,768) scale(0.98,1)" font-size="9.5" fill="#000" stroke="#000" stroke-width="0.15" text-anchor="start" font-weight="normal" style="font-family:'Liberation Sans', 'Noto Sans CJK SC', sans-serif" >100</text>
<text transform="translate(1620,797) scale(0.98,1)" font-size="9.5" fill="#000" stroke="#000" stroke-width="0.15" text-anchor="start" font-weight="normal" style="font-family:'Liberation Sans', 'Noto Sans CJK SC', sans-serif" >80</text>
<text transform="translate(1620,848) scale(0.98,1)" font-size="9.5" fill="#000" stroke="#000" stroke-width="0.15" text-anchor="start" font-weight="normal" style="font-family:'Liberation Sans', 'Noto Sans CJK SC', sans-serif" >50</text>
<text transform="translate(1620,909) scale(0.98,1)" font-size="9.5" fill="#000" stroke="#000" stroke-width="0.15" text-anchor="start" font-weight="normal" style="font-family:'Liberation Sans', 'Noto Sans CJK SC', sans-serif" >15</text>
<text transform="translate(1620,928) scale(0.98,1)" font-size="9.5" fill="#000" stroke="#000" stroke-width="0.15" text-anchor="start" font-weight="normal" style="font-family:'Liberation Sans', 'Noto Sans CJK SC', sans-serif" >0</text>
<g shape-rendering="crispEdges" fill="#000">
<rect x="-3" y="932" width="1" height="3"/>
<rect x="61" y="932" width="1" height="3"/>
<rect x="125" y="932" width="1" height="3"/>
<rect x="189" y="932" width="1" height="3"/>
<rect x="253" y="932" width="1" height="3"/>
<rect x="317" y="932" width="1" height="3"/>
<rect x="381" y="932" width="1" height="3"/>
<rect x="445" y="932" width="1" height="3"/>
<rect x="509" y="932" width="1" height="3"/>
<rect x="573" y="932" width="1" height="3"/>
<rect x="637" y="932" width="1" height="3"/>
<rect x="701" y="932" width="1" height="3"/>
<rect x="765" y="932" width="1" height="3"/>
<rect x="829" y="932" width="1" height="3"/>
<rect x="893" y="932" width="1" height="3"/>
<rect x="957" y="932" width="1" height="3"/>
<rect x="1021" y="932" width="1" height="3"/>
<rect x="1085" y="932" width="1" height="3"/>
<rect x="1149" y="932" width="1" height="3"/>
<rect x="1213" y="932" width="1" height="3"/>
<rect x="1277" y="932" width="1" height="3"/>
</g>
<text transform="translate(-3.7,944)" font-size="9.5" fill="#000" stroke="#000" stroke-width="0.15" text-anchor="start" font-weight="normal" style="font-family:'Liberation Sans', 'Noto Sans CJK SC', sans-serif" >25 Oct 2019</text>
<text transform="translate(60.3,944)" font-size="9.5" fill="#000" stroke="#000" stroke-width="0.15" text-anchor="start" font-weight="normal" style="font-family:'Liberation Sans', 'Noto Sans CJK SC', sans-serif" >28 Oct 12:00</text>
<text transform="translate(124.3,944)" font-size="9.5" fill="#000" stroke="#000" stroke-width="0.15" text-anchor="start" font-weight="normal" style="font-family:'Liberation Sans', 'Noto Sans CJK SC', sans-serif" >29 Oct 20:00</text>
<text transform="translate(188.3,944)" font-size="9.5" fill="#000" stroke="#000" stroke-width="0.15" text-anchor="start" font-weight="normal" style="font-family:'Liberation Sans', 'Noto Sans CJK SC', sans-serif" >31 Oct 04:00</text>
<text transform="translate(252.3,944)" font-size="9.5" fill="#000" stroke="#000" stroke-width="0.15" text-anchor="start" font-weight="normal" style="font-family:'Liberation Sans', 'Noto Sans CJK SC', sans-serif" >1 Nov 12:00</text>
<text transform="translate(316.3,944)" font-size="9.5" fill="#000" stroke="#000" stroke-width="0.15" text-anchor="start" font-weight="normal" style="font-family:'Liberation Sans', 'Noto Sans CJK SC', sans-serif" >4 Nov 20:00</text>
<text transform="translate(380.3,944)" font-size="9.5" fill="#000" stroke="#000" stroke-width="0.15" text-anchor="start" font-weight="normal" style="font-family:'Liberation Sans', 'Noto Sans CJK SC', sans-serif" >6 Nov 04:00</text>
<text transform="translate(444.3,944)" font-size="9.5" fill="#000" stroke="#000" stroke-width="0.15" text-anchor="start" font-weight="normal" style="font-family:'Liberation Sans', 'Noto Sans CJK SC', sans-serif" >7 Nov 12:00</text>
<text transform="translate(508.3,944)" font-size="9.5" fill="#000" stroke="#000" stroke-width="0.15" text-anchor="start" font-weight="normal" style="font-family:'Liberation Sans', 'Noto Sans CJK SC', sans-serif" >10 Nov 23:00</text>
<text transform="translate(572.3,944)" font-size="9.5" fill="#000" stroke="#000" stroke-width="0.15" text-anchor="start" font-weight="normal" style="font-family:'Liberation Sans', 'Noto Sans CJK SC', sans-serif" >12 Nov 04:00</text>
<text transform="translate(636.3,944)" font-size="9.5" fill="#000" stroke="#000" stroke-width="0.15" text-anchor="start" font-weight="normal" style="font-family:'Liberation Sans', 'Noto Sans CJK SC', sans-serif" >13 Nov 12:00</text>
<text transform="translate(700.3,944)" font-size="9.5" fill="#000" stroke="#000" stroke-width="0.15" text-anchor="start" font-weight="normal" style="font-family:'Liberation Sans', 'Noto Sans CJK SC', sans-serif" >14 Nov 20:00</text>
<text transform="translate(764.3,944)" font-size="9.5" fill="#000" stroke="#000" stroke-width="0.15" text-anchor="start" font-weight="normal" style="font-family:'Liberation Sans', 'Noto Sans CJK SC', sans-serif" >18 Nov 04:00</text>
<text transform="translate(828.3,944)" font-size="9.5" fill="#000" stroke="#000" stroke-width="0.15" text-anchor="start" font-weight="normal" style="font-family:'Liberation Sans', 'Noto Sans CJK SC', sans-serif" >19 Nov 12:00</text>
<text transform="translate(892.3,944)" font-size="9.5" fill="#000" stroke="#000" stroke-width="0.15" text-anchor="start" font-weight="normal" style="font-family:'Liberation Sans', 'Noto Sans CJK SC', sans-serif" >20 Nov 20:00</text>
<text transform="translate(956.3,944)" font-size="9.5" fill="#000" stroke="#000" stroke-width="0.15" text-anchor="start" font-weight="normal" style="font-family:'Liberation Sans', 'Noto Sans CJK SC', sans-serif" >22 Nov 04:00</text>
<text transform="translate(1020.3,944)" font-size="9.5" fill="#000" stroke="#000" stroke-width="0.15" text-anchor="start" font-weight="normal" style="font-family:'Liberation Sans', 'Noto Sans CJK SC', sans-serif" >25 Nov 12:00</text>
<text transform="translate(1084.3,944)" font-size="9.5" fill="#000" stroke="#000" stroke-width="0.15" text-anchor="start" font-weight="normal" style="font-family:'Liberation Sans', 'Noto Sans CJK SC', sans-serif" >26 Nov 20:00</text>
<text transform="translate(1148.3,944)" font-size="9.5" fill="#000" stroke="#000" stroke-width="0.15" text-anchor="start" font-weight="normal" style="font-family:'Liberation Sans', 'Noto Sans CJK SC', sans-serif" >28 Nov 04:00</text>
<text transform="translate(1212.3,944)" font-size="9.5" fill="#000" stroke="#000" stroke-width="0.15" text-anchor="start" font-weight="normal" style="font-family:'Liberation Sans', 'Noto Sans CJK SC', sans-serif" >29 Nov 12:00</text>
<text transform="translate(1276.3,944)" font-size="9.5" fill="#000" stroke="#000" stroke-width="0.15" text-anchor="start" font-weight="normal" style="font-family:'Liberation Sans', 'Noto Sans CJK SC', sans-serif" >2 Dec 20:00</text>
<polygon points="0,40.5 3.5,36.5 7,40.5" fill="#000"/>
<text transform="translate(12.2,42) scale(0.974,1)" font-size="9.5" fill="#000" stroke="#000" stroke-width="0.15" text-anchor="start" font-weight="normal" style="font-family:'Liberation Sans', 'Noto Sans CJK SC', sans-serif" >GBPJPY-,H4</text>
<text transform="translate(71.8,42) scale(0.98,1)" font-size="9.5" fill="#000" stroke="#000" stroke-width="0.15" text-anchor="start" font-weight="normal" style="font-family:'Liberation Sans', 'Noto Sans CJK SC', sans-serif" >141.032</text>
<text transform="translate(107.6,42) scale(0.98,1)" font-size="9.5" fill="#000" stroke="#000" stroke-width="0.15" text-anchor="start" font-weight="normal" style="font-family:'Liberation Sans', 'Noto Sans CJK SC', sans-serif" >141.091</text>
<text transform="translate(143.7,42) scale(0.98,1)" font-size="9.5" fill="#000" stroke="#000" stroke-width="0.15" text-anchor="start" font-weight="normal" style="font-family:'Liberation Sans', 'Noto Sans CJK SC', sans-serif" >140.960</text>
<text transform="translate(179.7,42) scale(0.98,1)" font-size="9.5" fill="#000" stroke="#000" stroke-width="0.15" text-anchor="start" font-weight="normal" style="font-family:'Liberation Sans', 'Noto Sans CJK SC', sans-serif" >140.960</text>
<text transform="translate(1.2,598) scale(0.985,1)" font-size="9.5" fill="#000" stroke="#000" stroke-width="0.15" text-anchor="start" font-weight="normal" style="font-family:'Liberation Sans', 'Noto Sans CJK SC', sans-serif" >MACD(12,26,9) 0.1353 0.2588</text>
<text transform="translate(1.2,770) scale(0.98,1)" font-size="9.5" fill="#000" stroke="#000" stroke-width="0.15" text-anchor="start" font-weight="normal" style="font-family:'Liberation Sans', 'Noto Sans CJK SC', sans-serif" >RSI(14) 46.5650</text>
<polygon points="1285.5,31 1295.5,31 1290.5,36" fill="#c0c0c0"/>
<text x="907.8" y="206.5" font-size="32" font-weight="600" fill="#000" style="font-family:'Liberation Serif', 'Noto Serif CJK SC', serif" letter-spacing="1.4">多空转折点</text>
<text x="906.8" y="205.5" font-size="32" font-weight="600" fill="#00ff00" style="font-family:'Liberation Serif', 'Noto Serif CJK SC', serif" letter-spacing="1.4">多空转折点</text>
<rect x="1326" y="172" width="7" height="1" fill="#ff0000"/>
<rect x="1333.5" y="170.5" width="2.5" height="3" fill="#fff" stroke="#ff0000" stroke-width="1"/>
<rect x="1336.5" y="160.5" width="73" height="24" fill="#fff" stroke="#ff0000" stroke-width="1"/>
<text transform="translate(1338.3,181) scale(0.87,1)" font-size="22.3" fill="#ff0000" stroke="#ff0000" stroke-width="0.6" text-anchor="start" font-weight="normal" style="font-family:'Liberation Sans', 'Noto Sans CJK SC', sans-serif" >141.175</text>
<defs>
<linearGradient id="gtab" x1="0" y1="0" x2="0" y2="1"><stop offset="0" stop-color="#f65a5a"/><stop offset="1" stop-color="#dd2a2a"/></linearGradient>
<linearGradient id="gbig" x1="0" y1="0" x2="0" y2="1"><stop offset="0" stop-color="#e33232"/><stop offset="1" stop-color="#b00808"/></linearGradient>
<linearGradient id="gbtn" x1="0" y1="0" x2="0" y2="1"><stop offset="0" stop-color="#f2f2f2"/><stop offset="0.45" stop-color="#e8e8e8"/><stop offset="0.5" stop-color="#dcdcdc"/><stop offset="1" stop-color="#d0d0d0"/></linearGradient>
</defs>
<rect x="0" y="49" width="221" height="67" fill="#fff"/>
<path d="M0.5,50.5 H51.5 V74.5 H108.5 V113.5 H0.5 Z" fill="url(#gbig)" stroke="#a00000" stroke-width="1"/>
<rect x="1" y="51" width="50" height="23" fill="url(#gtab)"/>
<rect x="4" y="73" width="44" height="2" fill="#8a0000"/><rect x="4" y="75" width="44" height="1" fill="#f08080" opacity="0.6"/>
<path d="M111.5,74.5 H167.5 V50.5 H218.5 V113.5 H111.5 Z" fill="url(#gbig)" stroke="#a00000" stroke-width="1"/>
<rect x="168" y="51" width="50" height="23" fill="url(#gtab)"/>
<rect x="171" y="73" width="44" height="2" fill="#8a0000"/><rect x="171" y="75" width="44" height="1" fill="#f08080" opacity="0.6"/>
<rect x="54.5" y="50.5" width="110" height="21" fill="#fff" stroke="#a8b0b8" stroke-width="1"/>
<rect x="55.5" y="51.5" width="20" height="19" fill="url(#gbtn)" stroke="#c8c8c8" stroke-width="1"/>
<rect x="143.5" y="51.5" width="20" height="19" fill="url(#gbtn)" stroke="#c8c8c8" stroke-width="1"/>
<polygon points="62,59 68,59 65,62" fill="#4060c0"/>
<polygon points="151,62 157,62 154,59" fill="#4060c0"/>
<text transform="translate(140,65)" font-size="12" fill="#000" text-anchor="end" font-weight="normal" style="font-family:'Liberation Sans', 'Noto Sans CJK SC', sans-serif" >1.00</text>
<text transform="translate(12,66.3) scale(0.87,1)" font-size="13.3" fill="#fff" text-anchor="start" font-weight="normal" style="font-family:'Liberation Sans', 'Noto Sans CJK SC', sans-serif" >SELL</text>
<text transform="translate(180.6,66.3) scale(0.93,1)" font-size="13.3" fill="#fff" text-anchor="start" font-weight="normal" style="font-family:'Liberation Sans', 'Noto Sans CJK SC', sans-serif" >BUY</text>
<text transform="translate(23,105) scale(1.12,1)" font-size="12.5" fill="#fff" text-anchor="start" font-weight="bold" style="font-family:'Liberation Sans', 'Noto Sans CJK SC', sans-serif" >140</text>
<text transform="translate(47.5,105)" font-size="33.5" fill="#fff" text-anchor="start" font-weight="normal" style="font-family:'Liberation Sans', 'Noto Sans CJK SC', sans-serif" >96</text>
<text transform="translate(86.3,89.3) scale(1.28,1)" font-size="12.5" fill="#fff" text-anchor="start" font-weight="bold" style="font-family:'Liberation Sans', 'Noto Sans CJK SC', sans-serif" >0</text>
<text transform="translate(132.8,105) scale(1.12,1)" font-size="12.5" fill="#fff" text-anchor="start" font-weight="bold" style="font-family:'Liberation Sans', 'Noto Sans CJK SC', sans-serif" >141</text>
<text transform="translate(158,105)" font-size="33.5" fill="#fff" text-anchor="start" font-weight="normal" style="font-family:'Liberation Sans', 'Noto Sans CJK SC', sans-serif" >03</text>
<text transform="translate(197.2,89.3) scale(1.2,1)" font-size="12.5" fill="#fff" text-anchor="start" font-weight="bold" style="font-family:'Liberation Sans', 'Noto Sans CJK SC', sans-serif" >4</text>
</svg></body></html>
